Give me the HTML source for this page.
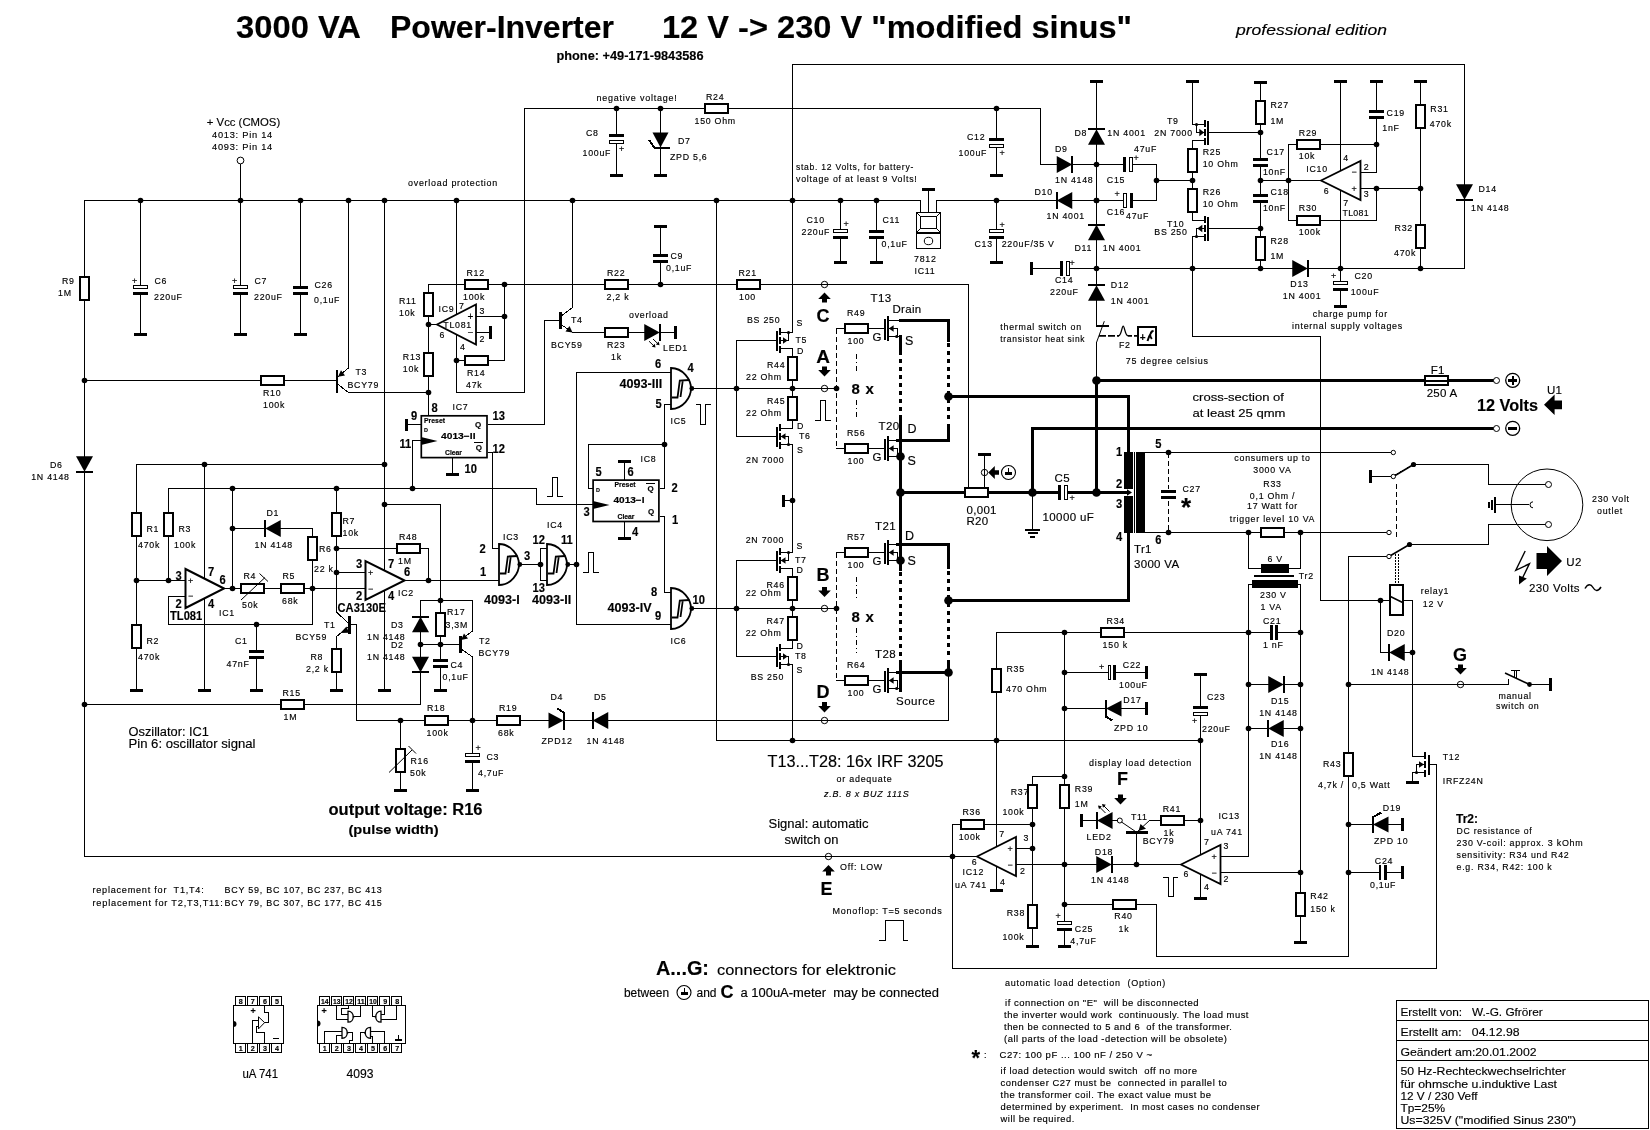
<!DOCTYPE html>
<html><head><meta charset="utf-8"><title>3000 VA Power-Inverter</title>
<style>html,body{margin:0;padding:0;background:#fff}svg{display:block;will-change:transform}text{white-space:pre}</style></head><body>
<svg width="1650" height="1130" viewBox="0 0 1650 1130" font-family="Liberation Sans, sans-serif" font-size="8.8" letter-spacing="0.75" fill="#000">
<rect width="1650" height="1130" fill="#fff"/>
<path d="M240.5 163 L240.5 200.5 M84.5 200.5 L920.5 200.5 L920.5 212 M936.5 212 L936.5 200.5 L1057 200.5 M1072 200.5 L1124 200.5 M84.5 200.5 L84.5 856.5 L977 856.5 M140.5 200.5 L140.5 334 M240.5 200.5 L240.5 334 M300.5 200.5 L300.5 334 M348.5 200.5 L348.5 368 M84.5 380.5 L337 380.5 M348.5 368 L337.5 377 M337.5 384 L348.5 392.5 L428.5 392.5 M384.5 200.5 L384.5 690 M456.5 200.5 L456.5 314.5 M456.5 334.5 L456.5 392.5 L524.5 392.5 L524.5 108.5 L1040.5 108.5 L1040.5 164.5 L1057 164.5 M616.5 108.5 L616.5 175 M660.5 108.5 L660.5 175 M428.5 284.5 L968.5 284.5 L968.5 488 M428.5 284.5 L428.5 415.5 M428.5 324.5 L437 324.5 M476 316.5 L504.5 316.5 M504.5 284.5 L504.5 360.5 L456.5 360.5 M476 332.5 L490 332.5 M660.5 227 L660.5 284.5 M572.5 200.5 L572.5 307.5 L560.5 316.5 M544.5 320.5 L560 320.5 M560.5 324 L572.5 332.5 L644 332.5 M660 332.5 L675 332.5 M406 424.5 L420.5 424.5 M488 424.5 L544.5 424.5 L544.5 320.5 M488 452.5 L492.5 452.5 L492.5 548.5 L499 548.5 M420.5 440.5 L412.5 440.5 L412.5 488.5 M452.5 458 L452.5 474 M168.5 488.5 L536.5 488.5 L536.5 504.5 L592.5 504.5 M168.5 488.5 L168.5 580.5 M136.5 464.5 L384.5 464.5 M136.5 464.5 L136.5 690 M136.5 580.5 L185 580.5 M204.5 464.5 L204.5 690 M547.5 496.5 L552.5 496.5 L552.5 477 L557.5 477 L557.5 496.5 L562 496.5 M224 588.5 L365 588.5 M232.5 488.5 L232.5 588.5 M232.5 528.5 L312.5 528.5 L312.5 624.5 L168.5 624.5 L168.5 596.5 L185 596.5 M256.5 624.5 L256.5 690 M336.5 488.5 L336.5 612 L348.5 623.5 M336.5 548.5 L428.5 548.5 L428.5 580.5 M336.5 572.5 L365 572.5 M404.5 580.5 L499 580.5 M348.5 627 L336.5 636.5 L336.5 690 M349 624.5 L356.5 624.5 L356.5 720.5 L548.5 720.5 M384.5 504.5 L440.5 504.5 L440.5 690 M420.5 600.5 L472.5 600.5 L472.5 631 L460.5 640 M420.5 600.5 L420.5 704.5 M420.5 644.5 L460 644.5 M460.5 648.5 L472.5 657 L472.5 753 M84.5 704.5 L420.5 704.5 M565 720.5 L593 720.5 M608 720.5 L948.5 720.5 L948.5 672.5 M400.5 720.5 L400.5 790 M472.5 762 L472.5 790 M520 564.5 L540.5 564.5 M547 548.5 L540.5 548.5 L540.5 580.5 L547 580.5 M568 564.5 L576.5 564.5 M583 572.5 L588.5 572.5 L588.5 552.5 L593.5 552.5 L593.5 572.5 L598 572.5 M671 372.5 L576.5 372.5 L576.5 624.5 L671 624.5 M692 388.5 L836.5 388.5 M671 404.5 L664.5 404.5 L664.5 488.5 L660 488.5 M664.5 444.5 L588.5 444.5 L588.5 488.5 L592.5 488.5 M696 404.5 L700.5 404.5 L700.5 424 L705.5 424 L705.5 404.5 L710 404.5 M624.5 479.5 L624.5 462 M624.5 522 L624.5 538 M660 516.5 L664.5 516.5 L664.5 592.5 L671 592.5 M692 608.5 L836.5 608.5 M736.5 340.5 L736.5 436.5 M736.5 340.5 L777 340.5 M780 332.5 L792.5 332.5 M780 348.5 L792.5 348.5 M780 340.5 L788.5 340.5 L788.5 332.5 M736.5 436.5 L777 436.5 M780 428.5 L792.5 428.5 M780 444.5 L792.5 444.5 M780 436.5 L788.5 436.5 L788.5 444.5 M736.5 560.5 L736.5 656.5 M736.5 560.5 L777 560.5 M780 552.5 L792.5 552.5 M780 568.5 L792.5 568.5 M780 560.5 L788.5 560.5 L788.5 552.5 M736.5 656.5 L777 656.5 M780 648.5 L792.5 648.5 M780 664.5 L792.5 664.5 M780 656.5 L788.5 656.5 L788.5 664.5 M792.5 64.5 L792.5 332.5 M792.5 64.5 L1464.5 64.5 L1464.5 268.5 M792.5 348.5 L792.5 428.5 M792.5 444.5 L792.5 552.5 M783.5 500.5 L792.5 500.5 M792.5 568.5 L792.5 648.5 M792.5 664.5 L792.5 740.5 M716.5 200.5 L716.5 740.5 L1200.5 740.5 M815 420.5 L820.5 420.5 L820.5 400.5 L825.5 400.5 L825.5 420.5 L830 420.5 M836.5 328.5 L885 328.5 M888 320.5 L899 320.5 M888 328.5 L897 328.5 L897 336.5 M888 336.5 L898 336.5 M836.5 448.5 L885 448.5 M888 440.5 L899 440.5 M888 448.5 L897 448.5 L897 456.5 M888 456.5 L898 456.5 M836.5 552.5 L885 552.5 M888 544.5 L899 544.5 M888 552.5 L897 552.5 L897 560.5 M888 560.5 L898 560.5 M836.5 680.5 L885 680.5 M888 672.5 L899 672.5 M888 680.5 L897 680.5 L897 688.5 M888 688.5 L898 688.5 M1032.5 492.5 L1032.5 530 M984.5 454 L984.5 488 M879.5 940.5 L885.5 940.5 L885.5 920.5 L903.5 920.5 L903.5 940.5 L907.5 940.5 M840.5 200.5 L840.5 262 M876.5 200.5 L876.5 262 M928.5 190 L928.5 212 M996.5 108.5 L996.5 175 M996.5 200.5 L996.5 262 M1072 164.5 L1124 164.5 M1096.5 81.5 L1096.5 326.5 M1132 164.5 L1156.5 164.5 L1156.5 200.5 L1133 200.5 M1156.5 180.5 L1192.5 180.5 M1031 268.5 L1060 268.5 M1068 268.5 L1464.5 268.5 M1192.5 81.5 L1192.5 124.5 L1204 124.5 M1208 132.5 L1260.5 132.5 M1196.5 124.5 L1196.5 132.5 L1204 132.5 M1204 140.5 L1192.5 140.5 L1192.5 220.5 L1204 220.5 M1208 228.5 L1260.5 228.5 M1204 228.5 L1196.5 228.5 L1196.5 236.5 M1204 236.5 L1192.5 236.5 L1192.5 336.5 L1320.5 336.5 L1320.5 600.5 L1390 600.5 M1260.5 82 L1260.5 268.5 M1260.5 180.5 L1321 180.5 M1288.5 144.5 L1288.5 220.5 M1288.5 144.5 L1376.5 144.5 M1288.5 220.5 L1376.5 220.5 L1376.5 188.5 M1340.5 81.5 L1340.5 306 M1376.5 81.5 L1376.5 172.5 L1360.5 172.5 M1360.5 188.5 L1420.5 188.5 M1420.5 81.5 L1420.5 268.5 M1096.5 380 L1096.5 342.5 M1134.5 452.5 L1134.5 532.8 M1145 452.5 L1391 452.5 M1145 532.5 L1386.5 532.5 M1248.5 532.5 L1248.5 568.5 L1261 568.5 M1300.5 532.5 L1300.5 568.5 L1288 568.5 M1248.5 584.5 L1252 584.5 M1297 584.5 L1300.5 584.5 M1248.5 584.5 L1248.5 856.5 L1220.5 856.5 M1300.5 584.5 L1300.5 942 M996.5 632.5 L1300.5 632.5 M1248.5 684.5 L1300.5 684.5 M1248.5 728.5 L1300.5 728.5 M1370.5 476.5 L1391 476.5 M1395.5 475 L1413.5 464.5 M1413.5 464.5 L1488.5 464.5 L1488.5 484.5 L1545.5 484.5 M1409.5 544.5 L1488.5 544.5 L1488.5 524.5 L1545.5 524.5 M1386.5 556.5 L1348.5 556.5 L1348.5 956.5 L1156.5 956.5 L1156.5 904.5 L1064.5 904.5 M1496.5 504.5 L1528.5 504.5 M1402.5 600.5 L1412.5 600.5 L1412.5 756.5 L1424.5 756.5 M1380.5 600.5 L1380.5 652.5 L1412.5 652.5 M1348.5 684.5 L1508.5 684.5 L1508.5 679.5 M1529.5 684.5 L1550 684.5 M1511 670.5 L1519.5 670.5 M1514 670.5 L1514 677 M1516.5 670.5 L1516.5 678 M1348.5 824.5 L1402.5 824.5 M1220.5 872.5 L1300.5 872.5 M1348.5 872.5 L1402.5 872.5 M1429 764.5 L1436.5 764.5 L1436.5 968.5 L952.5 968.5 L952.5 824.5 L1032.5 824.5 M1424.5 764.5 L1416.5 764.5 L1416.5 772.5 M1424.5 772.5 L1412.5 772.5 L1412.5 782 M996.5 632.5 L996.5 890 M1064.5 632.5 L1064.5 946 M1064.5 672.5 L1146 672.5 M1064.5 708.5 L1146 708.5 M1200.5 675 L1200.5 898 M1064.5 776.5 L1032.5 776.5 L1032.5 946 M1016 848.5 L1032.5 848.5 M1016 864.5 L1181 864.5 M1082 820.5 L1097 820.5 M1112 820.5 L1117 820.5 M1149.5 820.5 L1200.5 820.5 M1136.5 832 L1136.5 864.5 M1200.5 740.5 L1200.5 845 M1220.5 856.5 L1248.5 856.5 M1163.5 877 L1168 877 L1168 896 L1173 896 L1173 877 L1177.5 877 M1396.5 1020.5 L1648.5 1020.5 M1396.5 1040.5 L1648.5 1040.5 M1396.5 1060.5 L1648.5 1060.5 M264.5 1005.5 L264.5 1012.5 L268.5 1012.5 L268.5 1022.5 L264.5 1022.5 M252.5 1043.5 L252.5 1020.5 L258.5 1020.5 M264.5 1043.5 L264.5 1032.5 L256.5 1032.5 L256.5 1026.5 L258.5 1026.5 M336.5 1005.5 L336.5 1019.5 L348 1019.5 M348.5 1005.5 L348.5 1008.5 L341.5 1008.5 L341.5 1014.5 L348 1014.5 M353.5 1016.5 L360.5 1016.5 L360.5 1005.5 M396.5 1005.5 L396.5 1019.5 L381 1019.5 M384.5 1005.5 L384.5 1014.5 L381 1014.5 M375.5 1016.5 L372.5 1016.5 L372.5 1005.5 M324.5 1043.5 L324.5 1031.5 L342 1031.5 M336.5 1043.5 L336.5 1035.5 L342 1035.5 M347.5 1032.5 L352.5 1032.5 L352.5 1040.5 L349.5 1040.5 L349.5 1043.5 M384.5 1043.5 L384.5 1031.5 L370.5 1031.5 M372.5 1043.5 L372.5 1036 L370.5 1036 M365 1032.5 L360.5 1032.5 L360.5 1043.5" fill="none" stroke="#000" stroke-width="1" stroke-linecap="square" stroke-linejoin="miter" shape-rendering="crispEdges"/>
<path d="M899 320.5 L948.5 320.5 L948.5 342 M948.5 423.5 L948.5 440.5 L896 440.5 M900.5 335 L900.5 351 M900.5 419 L900.5 571 M900.5 660 L900.5 692 M948.5 396.5 L1128.5 396.5 L1128.5 453 M896 544.5 L948.5 544.5 L948.5 569 M948.5 660 L948.5 672.5 M896 672.5 L948.5 672.5 M948.5 600.5 L1128.5 600.5 L1128.5 532 M900.5 492.5 L1059 492.5 M1067 492.5 L1128 492.5 M1032.5 492.5 L1032.5 428.5 L1493.5 428.5 M1096.5 492.5 L1096.5 380.5 L1493.5 380.5" fill="none" stroke="#000" stroke-width="3" shape-rendering="crispEdges" stroke-linejoin="miter"/>
<path d="M654.5 148 L649 140 M564 713 L557.5 708.5 M1373 817 L1381.5 812.5 M1105.5 716.5 L1112.5 720.5" fill="none" stroke="#000" stroke-width="2" shape-rendering="crispEdges"/>
<g>
<circle cx="240.5" cy="160.5" r="3.4" fill="#fff" stroke="#000" stroke-width="1"/>
<circle cx="140.5" cy="200.5" r="2.8"/>
<circle cx="240.5" cy="200.5" r="2.8"/>
<circle cx="300.5" cy="200.5" r="2.8"/>
<circle cx="348.5" cy="200.5" r="2.8"/>
<circle cx="384.5" cy="200.5" r="2.8"/>
<circle cx="456.5" cy="200.5" r="2.8"/>
<circle cx="572.5" cy="200.5" r="2.8"/>
<circle cx="716.5" cy="200.5" r="2.8"/>
<circle cx="792.5" cy="200.5" r="2.8"/>
<circle cx="840.5" cy="200.5" r="2.8"/>
<circle cx="876.5" cy="200.5" r="2.8"/>
<circle cx="996.5" cy="200.5" r="2.8"/>
<circle cx="1096.5" cy="200.5" r="2.8"/>
<rect x="80" y="277" width="9" height="23" fill="#fff" stroke="#000" stroke-width="2" shape-rendering="crispEdges"/>
<circle cx="84.5" cy="380.5" r="2.8"/>
<circle cx="84.5" cy="704.5" r="2.8"/>
<polygon points="76,456.25 84.5,471.75 93,456.25" fill="#000"/>
<rect x="76" y="470.75" width="17" height="2" shape-rendering="crispEdges"/>
<rect x="139.5" y="288.5" width="2" height="4" fill="#fff"/>
<rect x="133.5" y="285.5" width="14" height="3" fill="#fff" stroke="#000" stroke-width="1" shape-rendering="crispEdges"/>
<rect x="133" y="292" width="15" height="3" shape-rendering="crispEdges"/>
<rect x="134" y="333" width="13" height="3" shape-rendering="crispEdges"/>
<rect x="239.5" y="288.5" width="2" height="4" fill="#fff"/>
<rect x="233.5" y="285.5" width="14" height="3" fill="#fff" stroke="#000" stroke-width="1" shape-rendering="crispEdges"/>
<rect x="233" y="292" width="15" height="3" shape-rendering="crispEdges"/>
<rect x="234" y="333" width="13" height="3" shape-rendering="crispEdges"/>
<rect x="299.5" y="288.5" width="2" height="4" fill="#fff"/>
<rect x="293" y="286" width="15" height="3" shape-rendering="crispEdges"/>
<rect x="293" y="292" width="15" height="3" shape-rendering="crispEdges"/>
<rect x="294" y="333" width="13" height="3" shape-rendering="crispEdges"/>
<rect x="261" y="376" width="23" height="9" fill="#fff" stroke="#000" stroke-width="2" shape-rendering="crispEdges"/>
<rect x="335.5" y="369.5" width="2.5" height="23" shape-rendering="crispEdges"/>
<polygon points="338,376.8 345,375.5 341,370.3" fill="#000"/>
<circle cx="384.5" cy="464.5" r="2.8"/>
<circle cx="384.5" cy="504.5" r="2.8"/>
<rect x="378" y="689" width="13" height="3" shape-rendering="crispEdges"/>
<circle cx="456.5" cy="360.5" r="2.8"/>
<circle cx="616.5" cy="108.5" r="2.8"/>
<circle cx="660.5" cy="108.5" r="2.8"/>
<circle cx="996.5" cy="108.5" r="2.8"/>
<rect x="705" y="104" width="23" height="9" fill="#fff" stroke="#000" stroke-width="2" shape-rendering="crispEdges"/>
<rect x="615.5" y="136.5" width="2" height="4" fill="#fff"/>
<rect x="609" y="134" width="15" height="3" shape-rendering="crispEdges"/>
<rect x="609.5" y="140.5" width="14" height="3" fill="#fff" stroke="#000" stroke-width="1" shape-rendering="crispEdges"/>
<rect x="610" y="174" width="13" height="3" shape-rendering="crispEdges"/>
<polygon points="652.5,132.5 668.5,132.5 660.5,147.5" fill="#000"/>
<rect x="653.5" y="147" width="16.5" height="2" shape-rendering="crispEdges"/>
<rect x="654" y="174" width="13" height="3" shape-rendering="crispEdges"/>
<rect x="465" y="280" width="23" height="9" fill="#fff" stroke="#000" stroke-width="2" shape-rendering="crispEdges"/>
<rect x="605" y="280" width="23" height="9" fill="#fff" stroke="#000" stroke-width="2" shape-rendering="crispEdges"/>
<rect x="737" y="280" width="23" height="9" fill="#fff" stroke="#000" stroke-width="2" shape-rendering="crispEdges"/>
<circle cx="504.5" cy="284.5" r="2.8"/>
<circle cx="660.5" cy="284.5" r="2.8"/>
<circle cx="824.5" cy="284.5" r="3.2" fill="none" stroke="#000" stroke-width="1"/>
<rect x="424" y="293" width="9" height="23" fill="#fff" stroke="#000" stroke-width="2" shape-rendering="crispEdges"/>
<rect x="424" y="353" width="9" height="23" fill="#fff" stroke="#000" stroke-width="2" shape-rendering="crispEdges"/>
<circle cx="428.5" cy="324.5" r="2.8"/>
<circle cx="428.5" cy="392.5" r="2.8"/>
<polygon points="437,324.5 476,304.5 476,344.5" fill="#fff" stroke="#000" stroke-width="1.8"/>
<circle cx="504.5" cy="316.5" r="2.8"/>
<rect x="465" y="356" width="23" height="9" fill="#fff" stroke="#000" stroke-width="2" shape-rendering="crispEdges"/>
<rect x="489" y="326" width="3" height="13" shape-rendering="crispEdges"/>
<rect x="654" y="225" width="13" height="3" shape-rendering="crispEdges"/>
<rect x="659.5" y="256.5" width="2" height="4" fill="#fff"/>
<rect x="653" y="254" width="15" height="3" shape-rendering="crispEdges"/>
<rect x="653" y="260" width="15" height="3" shape-rendering="crispEdges"/>
<rect x="559" y="312" width="2.5" height="17" shape-rendering="crispEdges"/>
<polygon points="572.5,332.5 565.5,331.5 569.5,326" fill="#000"/>
<rect x="605" y="328" width="23" height="9" fill="#fff" stroke="#000" stroke-width="2" shape-rendering="crispEdges"/>
<polygon points="644.25,324 659.75,332.5 644.25,341" fill="#000"/>
<rect x="658.75" y="324" width="2" height="17" shape-rendering="crispEdges"/>
<rect x="674" y="325.5" width="3" height="13" shape-rendering="crispEdges"/>
<path d="M649 341.2 L654.5 346.5" fill="none" stroke="#000" stroke-width="1"/>
<path d="M653 339 L658.5 344.3" fill="none" stroke="#000" stroke-width="1"/>
<polygon points="655.5,347.5 651.8,346.8 654.8,343.8" fill="#000"/>
<polygon points="659.5,345.3 655.8,344.6 658.8,341.6" fill="#000"/>
<rect x="421.3" y="415.8" width="65.7" height="41.8" fill="#fff" stroke="#000" stroke-width="1.7"/>
<polygon points="421,437 437.5,441 421,445" fill="#000"/>
<rect x="405" y="418.5" width="3" height="12" shape-rendering="crispEdges"/>
<rect x="446" y="473" width="13" height="3" shape-rendering="crispEdges"/>
<rect x="474" y="442" width="9" height="1" shape-rendering="crispEdges"/>
<circle cx="232.5" cy="488.5" r="2.8"/>
<circle cx="336.5" cy="488.5" r="2.8"/>
<circle cx="412.5" cy="488.5" r="2.8"/>
<rect x="164" y="513" width="9" height="23" fill="#fff" stroke="#000" stroke-width="2" shape-rendering="crispEdges"/>
<circle cx="204.5" cy="464.5" r="2.8"/>
<rect x="132" y="513" width="9" height="23" fill="#fff" stroke="#000" stroke-width="2" shape-rendering="crispEdges"/>
<rect x="132" y="625" width="9" height="23" fill="#fff" stroke="#000" stroke-width="2" shape-rendering="crispEdges"/>
<circle cx="136.5" cy="580.5" r="2.8"/>
<circle cx="168.5" cy="580.5" r="2.8"/>
<rect x="130" y="689" width="13" height="3" shape-rendering="crispEdges"/>
<rect x="198" y="689" width="13" height="3" shape-rendering="crispEdges"/>
<polygon points="224,588.5 185.5,569 185.5,608" fill="#fff" stroke="#000" stroke-width="2"/>
<rect x="241" y="584" width="23" height="9" fill="#fff" stroke="#000" stroke-width="2" shape-rendering="crispEdges"/>
<rect x="281" y="584" width="23" height="9" fill="#fff" stroke="#000" stroke-width="2" shape-rendering="crispEdges"/>
<path d="M241 600 L265 577.5" fill="none" stroke="#000" stroke-width="1"/>
<path d="M259.5 573.5 L268 581.5" fill="none" stroke="#000" stroke-width="1"/>
<circle cx="232.5" cy="588.5" r="2.8"/>
<circle cx="312.5" cy="588.5" r="2.8"/>
<circle cx="232.5" cy="528.5" r="2.8"/>
<polygon points="280.75,520 265.25,528.5 280.75,537" fill="#000"/>
<rect x="264.25" y="520" width="2" height="17" shape-rendering="crispEdges"/>
<rect x="308" y="537" width="9" height="23" fill="#fff" stroke="#000" stroke-width="2" shape-rendering="crispEdges"/>
<circle cx="256.5" cy="624.5" r="2.8"/>
<rect x="255.5" y="652.5" width="2" height="4" fill="#fff"/>
<rect x="249" y="650" width="15" height="3" shape-rendering="crispEdges"/>
<rect x="249" y="656" width="15" height="3" shape-rendering="crispEdges"/>
<rect x="250" y="689" width="13" height="3" shape-rendering="crispEdges"/>
<rect x="332" y="513" width="9" height="23" fill="#fff" stroke="#000" stroke-width="2" shape-rendering="crispEdges"/>
<circle cx="336.5" cy="548.5" r="2.8"/>
<circle cx="336.5" cy="572.5" r="2.8"/>
<rect x="397" y="544" width="23" height="9" fill="#fff" stroke="#000" stroke-width="2" shape-rendering="crispEdges"/>
<polygon points="404.5,580.5 365.5,561 365.5,600" fill="#fff" stroke="#000" stroke-width="2"/>
<circle cx="428.5" cy="580.5" r="2.8"/>
<rect x="348" y="616" width="2.5" height="17.5" shape-rendering="crispEdges"/>
<polygon points="340.4,633 346.5,626.5 349,632.7" fill="#000"/>
<rect x="332" y="649" width="9" height="23" fill="#fff" stroke="#000" stroke-width="2" shape-rendering="crispEdges"/>
<rect x="330" y="689" width="13" height="3" shape-rendering="crispEdges"/>
<rect x="436" y="613" width="9" height="23" fill="#fff" stroke="#000" stroke-width="2" shape-rendering="crispEdges"/>
<rect x="439.5" y="661" width="2" height="4" fill="#fff"/>
<rect x="433" y="658.5" width="15" height="3" shape-rendering="crispEdges"/>
<rect x="433" y="664.5" width="15" height="3" shape-rendering="crispEdges"/>
<rect x="434" y="689" width="13" height="3" shape-rendering="crispEdges"/>
<circle cx="440.5" cy="600.5" r="2.8"/>
<circle cx="440.5" cy="644.5" r="2.8"/>
<polygon points="412,632.25 420.5,616.75 429,632.25" fill="#000"/>
<rect x="412" y="615.75" width="17" height="2" shape-rendering="crispEdges"/>
<polygon points="412,656.75 420.5,672.25 429,656.75" fill="#000"/>
<rect x="412" y="671.25" width="17" height="2" shape-rendering="crispEdges"/>
<circle cx="420.5" cy="644.5" r="2.8"/>
<rect x="459" y="636" width="2.5" height="17" shape-rendering="crispEdges"/>
<polygon points="461,640 468,638.5 464,633.5" fill="#000"/>
<rect x="281" y="700" width="23" height="9" fill="#fff" stroke="#000" stroke-width="2" shape-rendering="crispEdges"/>
<rect x="425" y="716" width="23" height="9" fill="#fff" stroke="#000" stroke-width="2" shape-rendering="crispEdges"/>
<rect x="497" y="716" width="23" height="9" fill="#fff" stroke="#000" stroke-width="2" shape-rendering="crispEdges"/>
<circle cx="400.5" cy="720.5" r="2.8"/>
<circle cx="472.5" cy="720.5" r="2.8"/>
<polygon points="548.5,712.5 548.5,728.5 563.5,720.5" fill="#000"/>
<rect x="563" y="712" width="2" height="17.5" shape-rendering="crispEdges"/>
<polygon points="608.25,712 592.75,720.5 608.25,729" fill="#000"/>
<rect x="591.75" y="712" width="2" height="17" shape-rendering="crispEdges"/>
<circle cx="824.5" cy="720.5" r="3.2" fill="none" stroke="#000" stroke-width="1"/>
<rect x="396" y="749" width="9" height="23" fill="#fff" stroke="#000" stroke-width="2" shape-rendering="crispEdges"/>
<rect x="394" y="789" width="13" height="3" shape-rendering="crispEdges"/>
<path d="M389 772.5 L412 750" fill="none" stroke="#000" stroke-width="1"/>
<path d="M408.5 746 L416 753.5" fill="none" stroke="#000" stroke-width="1"/>
<rect x="471.5" y="756.3" width="2" height="4" fill="#fff"/>
<rect x="465.5" y="753.3" width="14" height="3" fill="#fff" stroke="#000" stroke-width="1" shape-rendering="crispEdges"/>
<rect x="465" y="759.8" width="15" height="3" shape-rendering="crispEdges"/>
<rect x="466" y="789" width="13" height="3" shape-rendering="crispEdges"/>
<path d="M499 585 L499 544 C511 544 519 555.5 519 564.5 C519 573.5 511 585 499 585 Z" fill="#fff" stroke="#000" stroke-width="1.8"/>
<path d="M500 573.5 L505.5 573.5 L507.8 556.5 L517.5 556 M508.5 573 L510.8 556.5" fill="none" stroke="#000" stroke-width="1.8"/>
<circle cx="519.8" cy="564.5" r="2.4"/>
<circle cx="540.5" cy="564.5" r="2.8"/>
<path d="M547 585 L547 544 C559 544 567 555.5 567 564.5 C567 573.5 559 585 547 585 Z" fill="#fff" stroke="#000" stroke-width="1.8"/>
<path d="M548 573.5 L553.5 573.5 L555.8 556.5 L565.5 556 M556.5 573 L558.8 556.5" fill="none" stroke="#000" stroke-width="1.8"/>
<circle cx="567.8" cy="564.5" r="2.4"/>
<circle cx="576.5" cy="564.5" r="2.8"/>
<path d="M671 409 L671 368 C683 368 691 379.5 691 388.5 C691 397.5 683 409 671 409 Z" fill="#fff" stroke="#000" stroke-width="1.8"/>
<path d="M672 397.5 L677.5 397.5 L679.8 380.5 L689.5 380 M680.5 397 L682.8 380.5" fill="none" stroke="#000" stroke-width="1.8"/>
<circle cx="691.8" cy="388.5" r="2.4"/>
<circle cx="736.5" cy="388.5" r="2.8"/>
<circle cx="792.5" cy="388.5" r="2.8"/>
<circle cx="836.5" cy="388.5" r="2.8"/>
<circle cx="824.5" cy="388.5" r="3.2" fill="none" stroke="#000" stroke-width="1"/>
<circle cx="664.5" cy="444.5" r="2.8"/>
<rect x="593.1" y="480.1" width="65.8" height="41.4" fill="#fff" stroke="#000" stroke-width="1.7"/>
<polygon points="593,501 609.5,505 593,509" fill="#000"/>
<rect x="618" y="460" width="13" height="3" shape-rendering="crispEdges"/>
<rect x="618" y="537" width="13" height="3" shape-rendering="crispEdges"/>
<rect x="646" y="483" width="9" height="1" shape-rendering="crispEdges"/>
<path d="M671 629 L671 588 C683 588 691 599.5 691 608.5 C691 617.5 683 629 671 629 Z" fill="#fff" stroke="#000" stroke-width="1.8"/>
<path d="M672 617.5 L677.5 617.5 L679.8 600.5 L689.5 600 M680.5 617 L682.8 600.5" fill="none" stroke="#000" stroke-width="1.8"/>
<circle cx="691.8" cy="608.5" r="2.4"/>
<circle cx="736.5" cy="608.5" r="2.8"/>
<circle cx="792.5" cy="608.5" r="2.8"/>
<circle cx="836.5" cy="608.5" r="2.8"/>
<circle cx="824.5" cy="608.5" r="3.2" fill="none" stroke="#000" stroke-width="1"/>
<rect x="776.3" y="330.5" width="1.6" height="20" shape-rendering="crispEdges"/>
<rect x="779" y="328.2" width="2" height="6.4" shape-rendering="crispEdges"/>
<rect x="779" y="337.2" width="2" height="6.4" shape-rendering="crispEdges"/>
<rect x="779" y="346.3" width="2" height="6.4" shape-rendering="crispEdges"/>
<circle cx="788.5" cy="332.5" r="1.6"/>
<polygon points="783,337.2 787.6,340.5 783,343.8" fill="#000"/>
<rect x="776.3" y="426.5" width="1.6" height="20" shape-rendering="crispEdges"/>
<rect x="779" y="424.2" width="2" height="6.4" shape-rendering="crispEdges"/>
<rect x="779" y="433.2" width="2" height="6.4" shape-rendering="crispEdges"/>
<rect x="779" y="442.3" width="2" height="6.4" shape-rendering="crispEdges"/>
<circle cx="788.5" cy="444.5" r="1.6"/>
<polygon points="785.5,433.2 780.8,436.5 785.5,439.8" fill="#000"/>
<rect x="776.3" y="550.5" width="1.6" height="20" shape-rendering="crispEdges"/>
<rect x="779" y="548.2" width="2" height="6.4" shape-rendering="crispEdges"/>
<rect x="779" y="557.2" width="2" height="6.4" shape-rendering="crispEdges"/>
<rect x="779" y="566.3" width="2" height="6.4" shape-rendering="crispEdges"/>
<circle cx="788.5" cy="552.5" r="1.6"/>
<polygon points="785.5,557.2 780.8,560.5 785.5,563.8" fill="#000"/>
<rect x="776.3" y="646.5" width="1.6" height="20" shape-rendering="crispEdges"/>
<rect x="779" y="644.2" width="2" height="6.4" shape-rendering="crispEdges"/>
<rect x="779" y="653.2" width="2" height="6.4" shape-rendering="crispEdges"/>
<rect x="779" y="662.3" width="2" height="6.4" shape-rendering="crispEdges"/>
<circle cx="788.5" cy="664.5" r="1.6"/>
<polygon points="783,653.2 787.6,656.5 783,659.8" fill="#000"/>
<rect x="788" y="357" width="9" height="23" fill="#fff" stroke="#000" stroke-width="2" shape-rendering="crispEdges"/>
<rect x="788" y="397" width="9" height="23" fill="#fff" stroke="#000" stroke-width="2" shape-rendering="crispEdges"/>
<circle cx="792.5" cy="500.5" r="2.8"/>
<rect x="782" y="494.5" width="3" height="12" shape-rendering="crispEdges"/>
<rect x="788" y="577" width="9" height="23" fill="#fff" stroke="#000" stroke-width="2" shape-rendering="crispEdges"/>
<rect x="788" y="617" width="9" height="23" fill="#fff" stroke="#000" stroke-width="2" shape-rendering="crispEdges"/>
<circle cx="792.5" cy="740.5" r="2.8"/>
<circle cx="996.5" cy="740.5" r="2.8"/>
<circle cx="1200.5" cy="740.5" r="2.8"/>
<polygon points="824.5,292.5 830.8,298.9 827,298.9 827,302.5 822,302.5 822,298.9 818.2,298.9" fill="#000"/>
<polygon points="822,366.5 827,366.5 827,370.1 830.8,370.1 824.5,376.5 818.2,370.1 822,370.1" fill="#000"/>
<polygon points="822,587 827,587 827,590.6 830.8,590.6 824.5,597 818.2,590.6 822,590.6" fill="#000"/>
<polygon points="822,702 827,702 827,706.1 830.8,706.1 824.5,712.5 818.2,706.1 822,706.1" fill="#000"/>
<path d="M836.5 328.5 V448.5 M836.5 552.5 V680.5" fill="none" stroke="#000" stroke-width="1" stroke-dasharray="5 3" shape-rendering="crispEdges"/>
<path d="M856.5 353.5 V373 M856.5 400 V417.5 M856.5 576.5 V601 M856.5 627.5 V652.5" fill="none" stroke="#000" stroke-width="1" stroke-dasharray="5 3 1 3" shape-rendering="crispEdges"/>
<rect x="845" y="324" width="23" height="9" fill="#fff" stroke="#000" stroke-width="2" shape-rendering="crispEdges"/>
<rect x="884.3" y="318.5" width="1.6" height="21" shape-rendering="crispEdges"/>
<rect x="887" y="316.2" width="2" height="24.6" shape-rendering="crispEdges"/>
<polygon points="893.6,325.2 888.8,328.5 893.6,331.8" fill="#000"/>
<rect x="845" y="444" width="23" height="9" fill="#fff" stroke="#000" stroke-width="2" shape-rendering="crispEdges"/>
<rect x="884.3" y="438.5" width="1.6" height="21" shape-rendering="crispEdges"/>
<rect x="887" y="436.2" width="2" height="24.6" shape-rendering="crispEdges"/>
<polygon points="893.6,445.2 888.8,448.5 893.6,451.8" fill="#000"/>
<rect x="845" y="548" width="23" height="9" fill="#fff" stroke="#000" stroke-width="2" shape-rendering="crispEdges"/>
<rect x="884.3" y="542.5" width="1.6" height="21" shape-rendering="crispEdges"/>
<rect x="887" y="540.2" width="2" height="24.6" shape-rendering="crispEdges"/>
<polygon points="893.6,549.2 888.8,552.5 893.6,555.8" fill="#000"/>
<rect x="845" y="676" width="23" height="9" fill="#fff" stroke="#000" stroke-width="2" shape-rendering="crispEdges"/>
<rect x="884.3" y="670.5" width="1.6" height="21" shape-rendering="crispEdges"/>
<rect x="887" y="668.2" width="2" height="24.6" shape-rendering="crispEdges"/>
<polygon points="893.6,677.2 888.8,680.5 893.6,683.8" fill="#000"/>
<circle cx="896.7" cy="336.5" r="1.6"/>
<circle cx="896.7" cy="688.5" r="1.6"/>
<path d="M948.5 343 V423" fill="none" stroke="#000" stroke-width="3" stroke-dasharray="3.5 4.5" shape-rendering="crispEdges"/>
<path d="M900.5 351 V419" fill="none" stroke="#000" stroke-width="3" stroke-dasharray="3.5 4.5" shape-rendering="crispEdges"/>
<path d="M900.5 572 V660" fill="none" stroke="#000" stroke-width="3" stroke-dasharray="3.5 4.5" shape-rendering="crispEdges"/>
<circle cx="948.5" cy="396.5" r="4.3"/>
<circle cx="900.5" cy="456.5" r="4.3"/>
<circle cx="900.5" cy="492.5" r="4.3"/>
<circle cx="900.5" cy="560.5" r="4.3"/>
<path d="M948.5 571 V658" fill="none" stroke="#000" stroke-width="3" stroke-dasharray="3.5 4.5" shape-rendering="crispEdges"/>
<circle cx="948.5" cy="600.5" r="4.3"/>
<circle cx="948.5" cy="672.5" r="4.3"/>
<rect x="965" y="488" width="23" height="9" fill="#fff" stroke="#000" stroke-width="2" shape-rendering="crispEdges"/>
<circle cx="1032.5" cy="492.5" r="4.3"/>
<circle cx="1096.5" cy="492.5" r="4.3"/>
<rect x="1058" y="485" width="3" height="15" shape-rendering="crispEdges"/>
<rect x="1064" y="485.5" width="3" height="14" fill="#fff" stroke="#000" stroke-width="1" shape-rendering="crispEdges"/>
<polygon points="1127,489.3 1132,492.5 1127,495.7" fill="#000"/>
<rect x="1025" y="528.5" width="15" height="2" shape-rendering="crispEdges"/>
<rect x="1027.5" y="532" width="10" height="2" shape-rendering="crispEdges"/>
<rect x="1030" y="535.5" width="5" height="2" shape-rendering="crispEdges"/>
<circle cx="1096.5" cy="380.5" r="4.3"/>
<rect x="978" y="452.5" width="13" height="3" shape-rendering="crispEdges"/>
<circle cx="984.5" cy="472.5" r="3.2" fill="none" stroke="#000" stroke-width="1"/>
<polygon points="988.2,472.5 994.8,466.1 994.8,470.2 999,470.2 999,474.8 994.8,474.8 994.8,478.9" fill="#000"/>
<circle cx="1008.5" cy="472.5" r="7" fill="#fff" stroke="#000" stroke-width="1.1"/>
<rect x="1005" y="472" width="7" height="3" shape-rendering="crispEdges"/>
<rect x="1008" y="468" width="1" height="4" shape-rendering="crispEdges"/>
<circle cx="828.5" cy="856.5" r="3.2" fill="none" stroke="#000" stroke-width="1"/>
<polygon points="828.5,865 834.8,871.4 831,871.4 831,875.5 826,875.5 826,871.4 822.2,871.4" fill="#000"/>
<circle cx="684" cy="992.5" r="7" fill="#fff" stroke="#000" stroke-width="1.1"/>
<rect x="680.5" y="992.2" width="7" height="3" shape-rendering="crispEdges"/>
<rect x="683.5" y="988.2" width="1" height="4" shape-rendering="crispEdges"/>
<rect x="834" y="261" width="13" height="3" shape-rendering="crispEdges"/>
<rect x="870" y="261" width="13" height="3" shape-rendering="crispEdges"/>
<rect x="839.5" y="232.5" width="2" height="4" fill="#fff"/>
<rect x="833.5" y="229.5" width="14" height="3" fill="#fff" stroke="#000" stroke-width="1" shape-rendering="crispEdges"/>
<rect x="833" y="236" width="15" height="3" shape-rendering="crispEdges"/>
<rect x="875.5" y="232.5" width="2" height="4" fill="#fff"/>
<rect x="869" y="230" width="15" height="3" shape-rendering="crispEdges"/>
<rect x="869" y="236" width="15" height="3" shape-rendering="crispEdges"/>
<rect x="922" y="188" width="13" height="3" shape-rendering="crispEdges"/>
<rect x="916.5" y="212.5" width="24" height="36" fill="#fff" stroke="#000" stroke-width="1" shape-rendering="crispEdges"/>
<rect x="916" y="232" width="25" height="2" shape-rendering="crispEdges"/>
<rect x="920.5" y="216.5" width="16" height="12" fill="#fff" stroke="#000" stroke-width="1" shape-rendering="crispEdges"/>
<path d="M916.5 212.5 L920.5 216.5" fill="none" stroke="#000" stroke-width="1"/>
<path d="M940.5 212.5 L936.5 216.5" fill="none" stroke="#000" stroke-width="1"/>
<path d="M916.5 232.5 L920.5 228.5" fill="none" stroke="#000" stroke-width="1"/>
<path d="M940.5 232.5 L936.5 228.5" fill="none" stroke="#000" stroke-width="1"/>
<ellipse cx="928.5" cy="241" rx="4.2" ry="3.7" fill="#fff" stroke="#000" stroke-width="1"/>
<rect x="995.5" y="140.5" width="2" height="4" fill="#fff"/>
<rect x="989" y="138" width="15" height="3" shape-rendering="crispEdges"/>
<rect x="989.5" y="144.5" width="14" height="3" fill="#fff" stroke="#000" stroke-width="1" shape-rendering="crispEdges"/>
<rect x="990" y="174" width="13" height="3" shape-rendering="crispEdges"/>
<rect x="995.5" y="232" width="2" height="4" fill="#fff"/>
<rect x="989.5" y="229" width="14" height="3" fill="#fff" stroke="#000" stroke-width="1" shape-rendering="crispEdges"/>
<rect x="989" y="235.5" width="15" height="3" shape-rendering="crispEdges"/>
<rect x="990" y="261" width="13" height="3" shape-rendering="crispEdges"/>
<polygon points="1056.75,156 1072.25,164.5 1056.75,173" fill="#000"/>
<rect x="1071.25" y="156" width="2" height="17" shape-rendering="crispEdges"/>
<circle cx="1096.5" cy="164.5" r="2.8"/>
<rect x="1090" y="80" width="13" height="3" shape-rendering="crispEdges"/>
<polygon points="1088,144.75 1096.5,129.25 1105,144.75" fill="#000"/>
<rect x="1088" y="128.25" width="17" height="2" shape-rendering="crispEdges"/>
<polygon points="1088,240.25 1096.5,224.75 1105,240.25" fill="#000"/>
<rect x="1088" y="223.75" width="17" height="2" shape-rendering="crispEdges"/>
<polygon points="1088,300.75 1096.5,285.25 1105,300.75" fill="#000"/>
<rect x="1088" y="284.25" width="17" height="2" shape-rendering="crispEdges"/>
<polygon points="1072.25,192 1056.75,200.5 1072.25,209" fill="#000"/>
<rect x="1055.75" y="192" width="2" height="17" shape-rendering="crispEdges"/>
<rect x="1125.5" y="163.5" width="4" height="2" fill="#fff"/>
<rect x="1123" y="157" width="3" height="15" shape-rendering="crispEdges"/>
<rect x="1129.5" y="157.5" width="3" height="14" fill="#fff" stroke="#000" stroke-width="1" shape-rendering="crispEdges"/>
<rect x="1126.5" y="199.5" width="4" height="2" fill="#fff"/>
<rect x="1123.5" y="193.5" width="3" height="14" fill="#fff" stroke="#000" stroke-width="1" shape-rendering="crispEdges"/>
<rect x="1130" y="193" width="3" height="15" shape-rendering="crispEdges"/>
<circle cx="1156.5" cy="180.5" r="2.8"/>
<rect x="1029.5" y="262" width="3" height="13" shape-rendering="crispEdges"/>
<rect x="1062" y="267.5" width="4" height="2" fill="#fff"/>
<rect x="1059.5" y="261" width="3" height="15" shape-rendering="crispEdges"/>
<rect x="1066" y="261.5" width="3" height="14" fill="#fff" stroke="#000" stroke-width="1" shape-rendering="crispEdges"/>
<circle cx="1096.5" cy="268.5" r="2.8"/>
<circle cx="1192.5" cy="268.5" r="2.8"/>
<circle cx="1260.5" cy="268.5" r="2.8"/>
<circle cx="1340.5" cy="268.5" r="2.8"/>
<circle cx="1420.5" cy="268.5" r="2.8"/>
<circle cx="1096.5" cy="200.5" r="2.8"/>
<rect x="1186" y="80" width="13" height="3" shape-rendering="crispEdges"/>
<rect x="1207" y="120.5" width="1.6" height="24" shape-rendering="crispEdges"/>
<rect x="1203.5" y="120.2" width="2" height="6.4" shape-rendering="crispEdges"/>
<rect x="1203.5" y="129.2" width="2" height="6.4" shape-rendering="crispEdges"/>
<rect x="1203.5" y="138.3" width="2" height="6.4" shape-rendering="crispEdges"/>
<circle cx="1196.5" cy="124.5" r="1.6"/>
<polygon points="1199.3,128.8 1204.2,132.5 1199.3,136.2" fill="#000"/>
<rect x="1188" y="149" width="9" height="23" fill="#fff" stroke="#000" stroke-width="2" shape-rendering="crispEdges"/>
<rect x="1188" y="189" width="9" height="23" fill="#fff" stroke="#000" stroke-width="2" shape-rendering="crispEdges"/>
<circle cx="1192.5" cy="180.5" r="2.8"/>
<rect x="1207" y="216.5" width="1.6" height="24" shape-rendering="crispEdges"/>
<rect x="1203.5" y="216.2" width="2" height="6.4" shape-rendering="crispEdges"/>
<rect x="1203.5" y="225.2" width="2" height="6.4" shape-rendering="crispEdges"/>
<rect x="1203.5" y="234.3" width="2" height="6.4" shape-rendering="crispEdges"/>
<polygon points="1202.3,224.8 1197.3,228.5 1202.3,232.2" fill="#000"/>
<circle cx="1196.5" cy="236.5" r="1.6"/>
<rect x="1254" y="80.5" width="13" height="3" shape-rendering="crispEdges"/>
<rect x="1256" y="101" width="9" height="23" fill="#fff" stroke="#000" stroke-width="2" shape-rendering="crispEdges"/>
<rect x="1256" y="237" width="9" height="23" fill="#fff" stroke="#000" stroke-width="2" shape-rendering="crispEdges"/>
<rect x="1259.5" y="160.5" width="2" height="4" fill="#fff"/>
<rect x="1253" y="158" width="15" height="3" shape-rendering="crispEdges"/>
<rect x="1253" y="164" width="15" height="3" shape-rendering="crispEdges"/>
<rect x="1259.5" y="196.5" width="2" height="4" fill="#fff"/>
<rect x="1253" y="194" width="15" height="3" shape-rendering="crispEdges"/>
<rect x="1253" y="200" width="15" height="3" shape-rendering="crispEdges"/>
<circle cx="1260.5" cy="132.5" r="2.8"/>
<circle cx="1260.5" cy="180.5" r="2.8"/>
<circle cx="1260.5" cy="228.5" r="2.8"/>
<circle cx="1288.5" cy="180.5" r="2.8"/>
<rect x="1297" y="140" width="23" height="9" fill="#fff" stroke="#000" stroke-width="2" shape-rendering="crispEdges"/>
<rect x="1297" y="216" width="23" height="9" fill="#fff" stroke="#000" stroke-width="2" shape-rendering="crispEdges"/>
<rect x="1334" y="80" width="13" height="3" shape-rendering="crispEdges"/>
<polygon points="1321,180.5 1360.5,161 1360.5,200" fill="#fff" stroke="#000" stroke-width="1.8"/>
<rect x="1370" y="80" width="13" height="3" shape-rendering="crispEdges"/>
<rect x="1375.5" y="112.5" width="2" height="4" fill="#fff"/>
<rect x="1369" y="110" width="15" height="3" shape-rendering="crispEdges"/>
<rect x="1369" y="116" width="15" height="3" shape-rendering="crispEdges"/>
<circle cx="1376.5" cy="144.5" r="2.8"/>
<circle cx="1376.5" cy="188.5" r="2.8"/>
<circle cx="1420.5" cy="188.5" r="2.8"/>
<rect x="1414" y="80" width="13" height="3" shape-rendering="crispEdges"/>
<rect x="1416" y="105" width="9" height="23" fill="#fff" stroke="#000" stroke-width="2" shape-rendering="crispEdges"/>
<rect x="1416" y="225" width="9" height="23" fill="#fff" stroke="#000" stroke-width="2" shape-rendering="crispEdges"/>
<polygon points="1292.25,260 1307.75,268.5 1292.25,277" fill="#000"/>
<rect x="1306.75" y="260" width="2" height="17" shape-rendering="crispEdges"/>
<rect x="1339.5" y="284" width="2" height="4" fill="#fff"/>
<rect x="1333.5" y="281" width="14" height="3" fill="#fff" stroke="#000" stroke-width="1" shape-rendering="crispEdges"/>
<rect x="1333" y="287.5" width="15" height="3" shape-rendering="crispEdges"/>
<rect x="1334" y="305" width="13" height="3" shape-rendering="crispEdges"/>
<polygon points="1456,184.25 1464.5,199.75 1473,184.25" fill="#000"/>
<rect x="1456" y="198.75" width="17" height="2" shape-rendering="crispEdges"/>
<path d="M1096.5 326 L1108.8 326" fill="none" stroke="#000" stroke-width="1.4" shape-rendering="crispEdges"/>
<path d="M1096.5 342.5 L1104.3 321.2" fill="none" stroke="#000" stroke-width="1"/>
<path d="M1099 335.8 H1119" fill="none" stroke="#000" stroke-width="1.7" stroke-dasharray="7 2"/>
<path d="M1118.5 335.8 C1121.5 335.5 1121.8 326.2 1123.2 326.2 C1124.6 326.2 1125 335.5 1128 335.8" fill="none" stroke="#000" stroke-width="1.3"/>
<path d="M1128 335.8 H1137.5" fill="none" stroke="#000" stroke-width="1.7" stroke-dasharray="4 2"/>
<rect x="1138.3" y="327.3" width="17.5" height="17.5" fill="#fff" stroke="#000" stroke-width="2" shape-rendering="crispEdges"/>
<path d="M1147.5 341 C1149 337 1150 332.5 1153.5 330.5 M1152.2 331 C1149.8 333 1149.8 336.5 1151.8 339" fill="none" stroke="#000" stroke-width="2"/>
<rect x="1124" y="452.3" width="9" height="36.5" shape-rendering="crispEdges"/>
<rect x="1124" y="496" width="9" height="36.8" shape-rendering="crispEdges"/>
<rect x="1136" y="452.3" width="9" height="80.5" shape-rendering="crispEdges"/>
<circle cx="1168.5" cy="452.5" r="2.8"/>
<circle cx="1168.5" cy="532.5" r="2.8"/>
<path d="M1168.5 452.5 V532.5" fill="none" stroke="#000" stroke-width="1" stroke-dasharray="5 3" shape-rendering="crispEdges"/>
<rect x="1162" y="489" width="14" height="10" fill="#fff"/>
<rect x="1161" y="490" width="15" height="2.5" shape-rendering="crispEdges"/>
<rect x="1161" y="496" width="15" height="2.5" shape-rendering="crispEdges"/>
<rect x="1425" y="376" width="23" height="9" fill="#fff" stroke="#000" stroke-width="2" shape-rendering="crispEdges"/>
<rect x="1426" y="379.5" width="22" height="2" shape-rendering="crispEdges"/>
<circle cx="1496.5" cy="380.5" r="3" fill="#fff" stroke="#000" stroke-width="1"/>
<circle cx="1496.5" cy="428.5" r="3" fill="#fff" stroke="#000" stroke-width="1"/>
<circle cx="1512.7" cy="380.3" r="7" fill="#fff" stroke="#000" stroke-width="1.3"/>
<rect x="1508.2" y="379.2" width="9" height="2.4" shape-rendering="crispEdges"/>
<rect x="1511.5" y="375.8" width="2.4" height="9" shape-rendering="crispEdges"/>
<circle cx="1512.7" cy="428.3" r="7" fill="#fff" stroke="#000" stroke-width="1.3"/>
<rect x="1508.2" y="427.1" width="9" height="2.6" shape-rendering="crispEdges"/>
<polygon points="1544,404.8 1554.6,394.6 1554.6,400.4 1562,400.4 1562,409.2 1554.6,409.2 1554.6,415" fill="#000"/>
<circle cx="1248.5" cy="532.5" r="2.8"/>
<circle cx="1300.5" cy="532.5" r="2.8"/>
<rect x="1261" y="528" width="23" height="9" fill="#fff" stroke="#000" stroke-width="2" shape-rendering="crispEdges"/>
<circle cx="1393.3" cy="452.5" r="2.2" fill="#fff" stroke="#000" stroke-width="1"/>
<circle cx="1389" cy="532.5" r="2.2" fill="#fff" stroke="#000" stroke-width="1"/>
<rect x="1260.5" y="564" width="28" height="9" shape-rendering="crispEdges"/>
<rect x="1254" y="575.3" width="40" height="1.3" shape-rendering="crispEdges"/>
<rect x="1251.5" y="579.5" width="46" height="8" shape-rendering="crispEdges"/>
<circle cx="1064.5" cy="632.5" r="2.8"/>
<circle cx="1248.5" cy="632.5" r="2.8"/>
<circle cx="1300.5" cy="632.5" r="2.8"/>
<rect x="1101" y="628" width="23" height="9" fill="#fff" stroke="#000" stroke-width="2" shape-rendering="crispEdges"/>
<rect x="1272" y="631" width="4" height="3" fill="#fff"/>
<rect x="1270" y="625" width="2.6" height="15" shape-rendering="crispEdges"/>
<rect x="1275.4" y="625" width="2.6" height="15" shape-rendering="crispEdges"/>
<circle cx="1248.5" cy="684.5" r="2.8"/>
<circle cx="1300.5" cy="684.5" r="2.8"/>
<circle cx="1248.5" cy="728.5" r="2.8"/>
<circle cx="1300.5" cy="728.5" r="2.8"/>
<polygon points="1268.25,676 1283.75,684.5 1268.25,693" fill="#000"/>
<rect x="1282.75" y="676" width="2" height="17" shape-rendering="crispEdges"/>
<polygon points="1283.75,720 1268.25,728.5 1283.75,737" fill="#000"/>
<rect x="1267.25" y="720" width="2" height="17" shape-rendering="crispEdges"/>
<circle cx="1300.5" cy="872.5" r="2.8"/>
<rect x="1296" y="893" width="9" height="23" fill="#fff" stroke="#000" stroke-width="2" shape-rendering="crispEdges"/>
<rect x="1294" y="941" width="13" height="3" shape-rendering="crispEdges"/>
<rect x="1369" y="470" width="3" height="13" shape-rendering="crispEdges"/>
<path d="M1393.5 476.5 L1413.5 464.5 M1389 556.5 L1409.5 544.5" fill="none" stroke="#000" stroke-width="1.6"/>
<circle cx="1393.3" cy="476.5" r="2.2" fill="#fff" stroke="#000" stroke-width="1"/>
<circle cx="1413.5" cy="464.5" r="2.6"/>
<circle cx="1389" cy="556.5" r="2.2" fill="#fff" stroke="#000" stroke-width="1"/>
<circle cx="1409.5" cy="544.5" r="2.6"/>
<path d="M1396.5 484 V540" fill="none" stroke="#000" stroke-width="1" stroke-dasharray="5 3" shape-rendering="crispEdges"/>
<path d="M1395.5 554 V584 M1398.5 554 V584" fill="none" stroke="#000" stroke-width="1" stroke-dasharray="2 1" shape-rendering="crispEdges"/>
<circle cx="1547" cy="504.8" r="35.8" fill="none" stroke="#000" stroke-width="1"/>
<circle cx="1548.5" cy="484.5" r="3" fill="#fff" stroke="#000" stroke-width="1"/>
<circle cx="1548.5" cy="524.5" r="3" fill="#fff" stroke="#000" stroke-width="1"/>
<path d="M1533 501.8 A3 3 0 1 0 1533 507.8" fill="none" stroke="#000" stroke-width="1"/>
<rect x="1494" y="497" width="2" height="15.5" shape-rendering="crispEdges"/>
<rect x="1491" y="499.5" width="2" height="10.5" shape-rendering="crispEdges"/>
<rect x="1488" y="502" width="2" height="5.5" shape-rendering="crispEdges"/>
<path d="M1525.2 551 L1515.8 570.3 L1529.4 563.8 L1521 581" fill="none" stroke="#000" stroke-width="1.4"/>
<polygon points="1519,584.5 1519,575.5 1526.8,578.5" fill="#000"/>
<polygon points="1562,561 1547,546 1547,553 1536.5,553 1536.5,569 1547,569 1547,576" fill="#000"/>
<path d="M1585 588.5 C1588 583 1591 584 1593 587.5 C1595 591 1598 592 1601 587" fill="none" stroke="#000" stroke-width="1.5"/>
<rect x="1390.4" y="585.2" width="12.2" height="30" fill="#fff" stroke="#000" stroke-width="2" shape-rendering="crispEdges"/>
<path d="M1390.4 596.5 L1402.6 602.5" fill="none" stroke="#000" stroke-width="1.5"/>
<circle cx="1380.5" cy="600.5" r="2.8"/>
<polygon points="1404.75,644 1389.25,652.5 1404.75,661" fill="#000"/>
<rect x="1388.25" y="644" width="2" height="17" shape-rendering="crispEdges"/>
<circle cx="1412.5" cy="652.5" r="2.8"/>
<circle cx="1348.5" cy="684.5" r="2.8"/>
<circle cx="1460.5" cy="684.5" r="3.2" fill="none" stroke="#000" stroke-width="1"/>
<path d="M1505 673 L1529.5 684.5" fill="none" stroke="#000" stroke-width="1.5"/>
<circle cx="1529.5" cy="684.5" r="2.4"/>
<rect x="1549" y="678" width="3" height="13" shape-rendering="crispEdges"/>
<polygon points="1458,664.5 1463,664.5 1463,668.1 1466.8,668.1 1460.5,674.5 1454.2,668.1 1458,668.1" fill="#000"/>
<rect x="1344" y="753" width="9" height="23" fill="#fff" stroke="#000" stroke-width="2" shape-rendering="crispEdges"/>
<circle cx="1348.5" cy="824.5" r="2.8"/>
<circle cx="1348.5" cy="872.5" r="2.8"/>
<rect x="1401" y="818" width="3" height="13" shape-rendering="crispEdges"/>
<polygon points="1388.5,816.5 1388.5,832.5 1373,824.5" fill="#000"/>
<rect x="1372" y="816" width="2" height="17" shape-rendering="crispEdges"/>
<rect x="1401" y="866" width="3" height="13" shape-rendering="crispEdges"/>
<rect x="1381" y="871" width="4" height="3" fill="#fff"/>
<rect x="1378.5" y="865" width="2.6" height="15" shape-rendering="crispEdges"/>
<rect x="1384" y="865" width="2.6" height="15" shape-rendering="crispEdges"/>
<rect x="1428.3" y="754.5" width="1.6" height="20.5" shape-rendering="crispEdges"/>
<rect x="1423.8" y="752.3" width="2" height="6.4" shape-rendering="crispEdges"/>
<rect x="1423.8" y="761.3" width="2" height="6.4" shape-rendering="crispEdges"/>
<rect x="1423.8" y="770.4" width="2" height="6.4" shape-rendering="crispEdges"/>
<polygon points="1419,761.2 1424,764.5 1419,767.8" fill="#000"/>
<rect x="1406" y="781" width="13" height="3" shape-rendering="crispEdges"/>
<circle cx="1416.5" cy="772.5" r="1.6"/>
<rect x="990" y="889" width="13" height="3" shape-rendering="crispEdges"/>
<rect x="992" y="669" width="9" height="23" fill="#fff" stroke="#000" stroke-width="2" shape-rendering="crispEdges"/>
<circle cx="1064.5" cy="672.5" r="2.8"/>
<circle cx="1064.5" cy="708.5" r="2.8"/>
<circle cx="1064.5" cy="776.5" r="2.8"/>
<circle cx="1064.5" cy="864.5" r="2.8"/>
<circle cx="1064.5" cy="904.5" r="2.8"/>
<rect x="1145" y="666" width="3" height="13" shape-rendering="crispEdges"/>
<rect x="1110" y="671" width="5" height="3" fill="#fff"/>
<rect x="1108" y="665.5" width="2.5" height="14" fill="#fff" stroke="#000" stroke-width="1" shape-rendering="crispEdges"/>
<rect x="1113.3" y="665" width="2.8" height="15" shape-rendering="crispEdges"/>
<rect x="1145" y="702" width="3" height="13" shape-rendering="crispEdges"/>
<polygon points="1121.5,700.5 1121.5,716.5 1106,708.5" fill="#000"/>
<rect x="1104.5" y="699.5" width="2" height="18" shape-rendering="crispEdges"/>
<rect x="1194" y="673" width="13" height="3" shape-rendering="crispEdges"/>
<rect x="1194" y="897" width="13" height="3" shape-rendering="crispEdges"/>
<rect x="1199.5" y="708" width="2" height="4" fill="#fff"/>
<rect x="1193" y="705.5" width="15" height="3" shape-rendering="crispEdges"/>
<rect x="1193.5" y="712" width="14" height="3" fill="#fff" stroke="#000" stroke-width="1" shape-rendering="crispEdges"/>
<polygon points="1118,794.5 1123,794.5 1123,798.1 1126.8,798.1 1120.5,804.5 1114.2,798.1 1118,798.1" fill="#000"/>
<rect x="1028" y="785" width="9" height="23" fill="#fff" stroke="#000" stroke-width="2" shape-rendering="crispEdges"/>
<rect x="1060" y="785" width="9" height="23" fill="#fff" stroke="#000" stroke-width="2" shape-rendering="crispEdges"/>
<rect x="1028" y="905" width="9" height="23" fill="#fff" stroke="#000" stroke-width="2" shape-rendering="crispEdges"/>
<rect x="1026" y="945" width="13" height="3" shape-rendering="crispEdges"/>
<rect x="1058" y="945" width="13" height="3" shape-rendering="crispEdges"/>
<circle cx="1032.5" cy="824.5" r="2.8"/>
<circle cx="1032.5" cy="848.5" r="2.8"/>
<rect x="961" y="820" width="23" height="9" fill="#fff" stroke="#000" stroke-width="2" shape-rendering="crispEdges"/>
<circle cx="952.5" cy="856.5" r="2.8"/>
<polygon points="977,856.5 1016,837 1016,876" fill="#fff" stroke="#000" stroke-width="1.8"/>
<rect x="1063.5" y="924" width="2" height="4" fill="#fff"/>
<rect x="1057.5" y="921" width="14" height="3" fill="#fff" stroke="#000" stroke-width="1" shape-rendering="crispEdges"/>
<rect x="1057" y="927.5" width="15" height="3" shape-rendering="crispEdges"/>
<rect x="1113" y="900" width="23" height="9" fill="#fff" stroke="#000" stroke-width="2" shape-rendering="crispEdges"/>
<rect x="1080" y="814" width="3" height="13" shape-rendering="crispEdges"/>
<polygon points="1112.55,812 1097.05,820.5 1112.55,829" fill="#000"/>
<rect x="1096.05" y="812" width="2" height="17" shape-rendering="crispEdges"/>
<circle cx="1119.8" cy="820.5" r="2.5" fill="none" stroke="#000" stroke-width="1"/>
<path d="M1105.5 813 L1099.5 807" fill="none" stroke="#000" stroke-width="1"/>
<path d="M1109.5 811.5 L1103.5 805.5" fill="none" stroke="#000" stroke-width="1"/>
<polygon points="1098,805.5 1101.8,806.3 1099,809.2" fill="#000"/>
<polygon points="1102,804 1105.8,804.8 1103,807.7" fill="#000"/>
<rect x="1125.5" y="831" width="22" height="2.5" shape-rendering="crispEdges"/>
<path d="M1121.5 822 L1135.5 831.5" fill="none" stroke="#000" stroke-width="1"/>
<path d="M1137.5 831.5 L1149.5 820.5" fill="none" stroke="#000" stroke-width="1"/>
<polygon points="1138.5,831 1140.5,824 1146,828.8" fill="#000"/>
<circle cx="1136.5" cy="864.5" r="2.8"/>
<circle cx="1200.5" cy="820.5" r="2.8"/>
<rect x="1161" y="816" width="23" height="9" fill="#fff" stroke="#000" stroke-width="2" shape-rendering="crispEdges"/>
<polygon points="1096.25,856 1111.75,864.5 1096.25,873" fill="#000"/>
<rect x="1110.75" y="856" width="2" height="17" shape-rendering="crispEdges"/>
<polygon points="1181,864.5 1220.5,845 1220.5,884" fill="#fff" stroke="#000" stroke-width="1.8"/>
<rect x="1396.5" y="1000.5" width="252" height="128" fill="none" stroke="#000" stroke-width="1.3" shape-rendering="crispEdges"/>
<rect x="233.5" y="1005.5" width="50" height="38" fill="none" stroke="#000" stroke-width="1.2" shape-rendering="crispEdges"/>
<rect x="235.5" y="996.5" width="10" height="9.3" fill="#fff" stroke="#000" stroke-width="1" shape-rendering="crispEdges"/>
<rect x="247.57" y="996.5" width="10" height="9.3" fill="#fff" stroke="#000" stroke-width="1" shape-rendering="crispEdges"/>
<rect x="259.64" y="996.5" width="10" height="9.3" fill="#fff" stroke="#000" stroke-width="1" shape-rendering="crispEdges"/>
<rect x="271.71" y="996.5" width="10" height="9.3" fill="#fff" stroke="#000" stroke-width="1" shape-rendering="crispEdges"/>
<rect x="235.5" y="1043.5" width="10" height="9.3" fill="#fff" stroke="#000" stroke-width="1" shape-rendering="crispEdges"/>
<rect x="247.57" y="1043.5" width="10" height="9.3" fill="#fff" stroke="#000" stroke-width="1" shape-rendering="crispEdges"/>
<rect x="259.64" y="1043.5" width="10" height="9.3" fill="#fff" stroke="#000" stroke-width="1" shape-rendering="crispEdges"/>
<rect x="271.71" y="1043.5" width="10" height="9.3" fill="#fff" stroke="#000" stroke-width="1" shape-rendering="crispEdges"/>
<path d="M233.5 1021 A3 3 0 0 1 233.5 1027 Z"/>
<rect x="273" y="1037.7" width="6" height="1.4" shape-rendering="crispEdges"/>
<polygon points="258.5,1016.8 264.6,1022.6 258.5,1028.9" fill="#fff" stroke="#000" stroke-width="1"/>
<rect x="317.5" y="1005.5" width="88" height="38" fill="none" stroke="#000" stroke-width="1.2" shape-rendering="crispEdges"/>
<rect x="319.5" y="996.5" width="10" height="9.3" fill="#fff" stroke="#000" stroke-width="1" shape-rendering="crispEdges"/>
<rect x="331.57" y="996.5" width="10" height="9.3" fill="#fff" stroke="#000" stroke-width="1" shape-rendering="crispEdges"/>
<rect x="343.64" y="996.5" width="10" height="9.3" fill="#fff" stroke="#000" stroke-width="1" shape-rendering="crispEdges"/>
<rect x="355.71" y="996.5" width="10" height="9.3" fill="#fff" stroke="#000" stroke-width="1" shape-rendering="crispEdges"/>
<rect x="367.78" y="996.5" width="10" height="9.3" fill="#fff" stroke="#000" stroke-width="1" shape-rendering="crispEdges"/>
<rect x="379.85" y="996.5" width="10" height="9.3" fill="#fff" stroke="#000" stroke-width="1" shape-rendering="crispEdges"/>
<rect x="391.92" y="996.5" width="10" height="9.3" fill="#fff" stroke="#000" stroke-width="1" shape-rendering="crispEdges"/>
<rect x="319.5" y="1043.5" width="10" height="9.3" fill="#fff" stroke="#000" stroke-width="1" shape-rendering="crispEdges"/>
<rect x="331.57" y="1043.5" width="10" height="9.3" fill="#fff" stroke="#000" stroke-width="1" shape-rendering="crispEdges"/>
<rect x="343.64" y="1043.5" width="10" height="9.3" fill="#fff" stroke="#000" stroke-width="1" shape-rendering="crispEdges"/>
<rect x="355.71" y="1043.5" width="10" height="9.3" fill="#fff" stroke="#000" stroke-width="1" shape-rendering="crispEdges"/>
<rect x="367.78" y="1043.5" width="10" height="9.3" fill="#fff" stroke="#000" stroke-width="1" shape-rendering="crispEdges"/>
<rect x="379.85" y="1043.5" width="10" height="9.3" fill="#fff" stroke="#000" stroke-width="1" shape-rendering="crispEdges"/>
<rect x="391.92" y="1043.5" width="10" height="9.3" fill="#fff" stroke="#000" stroke-width="1" shape-rendering="crispEdges"/>
<path d="M317.5 1020.5 A3 3 0 0 1 317.5 1026.5 Z"/>
<rect x="395" y="1039" width="7" height="1.6" shape-rendering="crispEdges"/>
<rect x="397.7" y="1035" width="1.4" height="4" shape-rendering="crispEdges"/>
<path d="M348 1011.2 V1022.2 C355 1022.2 355 1011.2 348 1011.2 Z" fill="#fff" stroke="#000" stroke-width="1.3"/>
<circle cx="353.6" cy="1016.7" r="0.9"/>
<path d="M381 1011.2 V1022.2 C374 1022.2 374 1011.2 381 1011.2 Z" fill="#fff" stroke="#000" stroke-width="1.3"/>
<circle cx="375.4" cy="1016.7" r="0.9"/>
<path d="M342 1027.3 V1038.3 C349 1038.3 349 1027.3 342 1027.3 Z" fill="#fff" stroke="#000" stroke-width="1.3"/>
<circle cx="347.6" cy="1032.8" r="0.9"/>
<path d="M370.5 1027.3 V1038.3 C363.5 1038.3 363.5 1027.3 370.5 1027.3 Z" fill="#fff" stroke="#000" stroke-width="1.3"/>
<circle cx="364.9" cy="1032.8" r="0.9"/>
</g>
<g stroke="#000" stroke-width="0.15">
<text x="236" y="38" font-size="32" letter-spacing="0" font-weight="bold" textLength="125" lengthAdjust="spacingAndGlyphs">3000 VA</text>
<text x="390" y="38" font-size="32" letter-spacing="0" font-weight="bold" textLength="224" lengthAdjust="spacingAndGlyphs">Power-Inverter</text>
<text x="662" y="38" font-size="32" letter-spacing="0" font-weight="bold" textLength="470" lengthAdjust="spacingAndGlyphs">12 V -&gt; 230 V "modified sinus"</text>
<text x="1236" y="34.5" font-size="14.5" letter-spacing="0" font-style="italic" textLength="151" lengthAdjust="spacingAndGlyphs">professional edition</text>
<text x="556.5" y="59.7" font-size="13" letter-spacing="0" font-weight="bold" textLength="147" lengthAdjust="spacingAndGlyphs">phone: +49-171-9843586</text>
<text x="206.8" y="125.8" font-size="11.5" letter-spacing="0" textLength="73.4" lengthAdjust="spacingAndGlyphs">+ Vcc (CMOS)</text>
<text x="212" y="137.8" font-size="9.2" textLength="61" lengthAdjust="spacingAndGlyphs">4013: Pin 14</text>
<text x="212" y="149.6" font-size="9.2" textLength="61" lengthAdjust="spacingAndGlyphs">4093: Pin 14</text>
<text x="62" y="283.5">R9</text>
<text x="58" y="295.5">1M</text>
<text x="50" y="467.5">D6</text>
<text x="31.2" y="479.8">1N 4148</text>
<text x="132" y="283.5" font-size="9" letter-spacing="0">+</text>
<text x="154.5" y="284">C6</text>
<text x="154" y="299.5">220uF</text>
<text x="232" y="283.5" font-size="9" letter-spacing="0">+</text>
<text x="254.5" y="284">C7</text>
<text x="254" y="299.5">220uF</text>
<text x="314.5" y="288">C26</text>
<text x="314" y="303.3">0,1uF</text>
<text x="408" y="185.5" textLength="90" lengthAdjust="spacingAndGlyphs">overload protection</text>
<text x="263" y="395.5">R10</text>
<text x="263" y="408">100k</text>
<text x="355.5" y="375">T3</text>
<text x="347.5" y="387.5">BCY79</text>
<text x="706" y="100">R24</text>
<text x="694.5" y="123.5">150 Ohm</text>
<text x="596.5" y="101" textLength="81" lengthAdjust="spacingAndGlyphs">negative voltage!</text>
<text x="619" y="151.5" font-size="9" letter-spacing="0">+</text>
<text x="586" y="135.5">C8</text>
<text x="582.5" y="155.5">100uF</text>
<text x="678" y="143.5">D7</text>
<text x="670" y="159.5">ZPD 5,6</text>
<text x="466.5" y="275.5">R12</text>
<text x="463" y="299.5">100k</text>
<text x="607" y="275.5">R22</text>
<text x="606.5" y="299.5">2,2 k</text>
<text x="738.5" y="275.5">R21</text>
<text x="739" y="299.5">100</text>
<text x="399" y="303.7">R11</text>
<text x="399" y="315.6">10k</text>
<text x="402.8" y="359.8">R13</text>
<text x="402.8" y="371.6">10k</text>
<text x="467" y="375.5">R14</text>
<text x="466" y="388">47k</text>
<text x="438.5" y="312">IC9</text>
<text x="459" y="309">7</text>
<text x="479.5" y="313.5">3</text>
<text x="479.5" y="341.5">2</text>
<text x="439.5" y="337.5">6</text>
<text x="460" y="349.5">4</text>
<text x="443.3" y="327.8">TL081</text>
<text x="467.5" y="319.8" font-size="10" letter-spacing="0">+</text>
<text x="467.7" y="335.5" font-size="10" letter-spacing="0">−</text>
<text x="670.5" y="259">C9</text>
<text x="666" y="271">0,1uF</text>
<text x="629" y="317.5">overload</text>
<text x="663" y="351">LED1</text>
<text x="607" y="347.5">R23</text>
<text x="611" y="359.5">1k</text>
<text x="571" y="323">T4</text>
<text x="551" y="347.5">BCY59</text>
<text x="424" y="422.8" font-size="6.3" letter-spacing="0" font-weight="bold" textLength="21" lengthAdjust="spacingAndGlyphs">Preset</text>
<text x="424" y="431.5" font-size="5.5" letter-spacing="0" font-weight="bold">D</text>
<text x="475" y="427.2" font-size="8" letter-spacing="0" font-weight="bold">Q</text>
<text x="441" y="438.7" font-size="8.5" letter-spacing="0" font-weight="bold" textLength="34.5" lengthAdjust="spacingAndGlyphs">4013−II</text>
<text x="445" y="454.5" font-size="6.3" letter-spacing="0" font-weight="bold" textLength="17" lengthAdjust="spacingAndGlyphs">Clear</text>
<text x="475.8" y="450.2" font-size="8" letter-spacing="0" font-weight="bold">Q</text>
<text transform="translate(431.5 412) scale(0.86 1)" font-size="13" letter-spacing="0" font-weight="bold">8</text>
<text transform="translate(411 420) scale(0.86 1)" font-size="13" letter-spacing="0" font-weight="bold">9</text>
<text transform="translate(492.5 420) scale(0.86 1)" font-size="13" letter-spacing="0" font-weight="bold">13</text>
<text transform="translate(492.5 452.5) scale(0.86 1)" font-size="13" letter-spacing="0" font-weight="bold">12</text>
<text transform="translate(399.5 448) scale(0.86 1)" font-size="13" letter-spacing="0" font-weight="bold">11</text>
<text transform="translate(464.5 472.5) scale(0.86 1)" font-size="13" letter-spacing="0" font-weight="bold">10</text>
<text x="452.5" y="410">IC7</text>
<text x="178.5" y="531.5">R3</text>
<text x="174" y="547.5">100k</text>
<text x="146.5" y="531.5">R1</text>
<text x="138" y="547.5">470k</text>
<text x="146.5" y="643.5">R2</text>
<text x="138" y="659.5">470k</text>
<text x="266.5" y="515.5">D1</text>
<text x="254.5" y="547.5">1N 4148</text>
<text x="319" y="551.5">R6</text>
<text x="314" y="571.5">22 k</text>
<text x="243.5" y="579">R4</text>
<text x="242" y="608">50k</text>
<text x="282.5" y="579">R5</text>
<text x="282" y="603.5">68k</text>
<text x="235" y="643.5">C1</text>
<text x="226.5" y="667">47nF</text>
<text x="188" y="583.5" font-size="9" letter-spacing="0">+</text>
<text x="188" y="599" font-size="9" letter-spacing="0">−</text>
<text transform="translate(175.5 579.5) scale(0.86 1)" font-size="13" letter-spacing="0" font-weight="bold">3</text>
<text transform="translate(175.5 607.5) scale(0.86 1)" font-size="13" letter-spacing="0" font-weight="bold">2</text>
<text transform="translate(208 576) scale(0.86 1)" font-size="13" letter-spacing="0" font-weight="bold">7</text>
<text transform="translate(208 608) scale(0.86 1)" font-size="13" letter-spacing="0" font-weight="bold">4</text>
<text transform="translate(219.5 584) scale(0.86 1)" font-size="13" letter-spacing="0" font-weight="bold">6</text>
<text transform="translate(170 620) scale(0.86 1)" font-size="13" letter-spacing="0" font-weight="bold">TL081</text>
<text x="219" y="616">IC1</text>
<text x="342.5" y="523.5">R7</text>
<text x="342.5" y="535.5">10k</text>
<text x="399" y="540">R48</text>
<text x="398" y="563.5">1M</text>
<text x="368" y="575.5" font-size="9" letter-spacing="0">+</text>
<text x="368" y="591.5" font-size="9" letter-spacing="0">−</text>
<text transform="translate(356 568) scale(0.86 1)" font-size="13" letter-spacing="0" font-weight="bold">3</text>
<text transform="translate(356 599.5) scale(0.86 1)" font-size="13" letter-spacing="0" font-weight="bold">2</text>
<text transform="translate(388 568) scale(0.86 1)" font-size="13" letter-spacing="0" font-weight="bold">7</text>
<text transform="translate(388 600) scale(0.86 1)" font-size="13" letter-spacing="0" font-weight="bold">4</text>
<text transform="translate(404 576) scale(0.86 1)" font-size="13" letter-spacing="0" font-weight="bold">6</text>
<text x="398" y="595.5">IC2</text>
<text transform="translate(337.5 612) scale(0.86 1)" font-size="13" letter-spacing="0" font-weight="bold">CA3130E</text>
<text x="324" y="627.5">T1</text>
<text x="295.5" y="639.5">BCY59</text>
<text x="310.5" y="659.5">R8</text>
<text x="306" y="671.5">2,2 k</text>
<text x="391" y="627.5">D3</text>
<text x="367" y="639.5">1N 4148</text>
<text x="391" y="647.5">D2</text>
<text x="367" y="659.5">1N 4148</text>
<text x="447" y="615.3">R17</text>
<text x="445.5" y="627.5">3,3M</text>
<text x="450.5" y="667.5">C4</text>
<text x="442.5" y="680">0,1uF</text>
<text x="479" y="643.5">T2</text>
<text x="478.5" y="655.5">BCY79</text>
<text x="282.5" y="695.5">R15</text>
<text x="283.5" y="720">1M</text>
<text x="427" y="711">R18</text>
<text x="426.5" y="735.5">100k</text>
<text x="499" y="711">R19</text>
<text x="498" y="735.5">68k</text>
<text x="550.5" y="699.5">D4</text>
<text x="594" y="699.5">D5</text>
<text x="541.5" y="743.5">ZPD12</text>
<text x="586.5" y="743.5">1N 4148</text>
<text x="410.5" y="763.5">R16</text>
<text x="410" y="775.5">50k</text>
<text x="475.5" y="751" font-size="9" letter-spacing="0">+</text>
<text x="486.5" y="759.5">C3</text>
<text x="478" y="775.5">4,7uF</text>
<text x="328.5" y="814.5" font-size="16" letter-spacing="0" font-weight="bold" textLength="154" lengthAdjust="spacingAndGlyphs">output voltage: R16</text>
<text x="348.5" y="833.5" font-size="13.5" letter-spacing="0" font-weight="bold" textLength="90" lengthAdjust="spacingAndGlyphs">(pulse width)</text>
<text x="128.5" y="735.5" font-size="12.5" letter-spacing="0" textLength="80.5" lengthAdjust="spacingAndGlyphs">Oszillator: IC1</text>
<text x="128.5" y="748.3" font-size="12.5" letter-spacing="0" textLength="127" lengthAdjust="spacingAndGlyphs">Pin 6: oscillator signal</text>
<text x="92.5" y="893" textLength="112" lengthAdjust="spacingAndGlyphs">replacement for  T1,T4:</text>
<text x="224.5" y="893" textLength="158" lengthAdjust="spacingAndGlyphs">BCY 59, BC 107, BC 237, BC 413</text>
<text x="92.5" y="905.5" textLength="131" lengthAdjust="spacingAndGlyphs">replacement for T2,T3,T11:</text>
<text x="224.5" y="905.5" textLength="158" lengthAdjust="spacingAndGlyphs">BCY 79, BC 307, BC 177, BC 415</text>
<text x="503" y="539.8">IC3</text>
<text x="547" y="527.5">IC4</text>
<text transform="translate(479.5 552.5) scale(0.86 1)" font-size="13" letter-spacing="0" font-weight="bold">2</text>
<text transform="translate(480 576) scale(0.86 1)" font-size="13" letter-spacing="0" font-weight="bold">1</text>
<text transform="translate(524 560) scale(0.86 1)" font-size="13" letter-spacing="0" font-weight="bold">3</text>
<text transform="translate(532.5 544) scale(0.86 1)" font-size="13" letter-spacing="0" font-weight="bold">12</text>
<text transform="translate(561 544) scale(0.86 1)" font-size="13" letter-spacing="0" font-weight="bold">11</text>
<text transform="translate(532.5 592) scale(0.86 1)" font-size="13" letter-spacing="0" font-weight="bold">13</text>
<text transform="translate(484 604) scale(0.97 1)" font-size="13" letter-spacing="0" font-weight="bold">4093-I</text>
<text transform="translate(532 604) scale(0.97 1)" font-size="13" letter-spacing="0" font-weight="bold">4093-II</text>
<text transform="translate(655 368) scale(0.86 1)" font-size="13" letter-spacing="0" font-weight="bold">6</text>
<text transform="translate(687.5 371.5) scale(0.86 1)" font-size="13" letter-spacing="0" font-weight="bold">4</text>
<text transform="translate(655.5 407.5) scale(0.86 1)" font-size="13" letter-spacing="0" font-weight="bold">5</text>
<text transform="translate(619.5 388) scale(0.97 1)" font-size="13" letter-spacing="0" font-weight="bold">4093-III</text>
<text x="670.5" y="423.5">IC5</text>
<text x="614.5" y="487.2" font-size="6.3" letter-spacing="0" font-weight="bold" textLength="21" lengthAdjust="spacingAndGlyphs">Preset</text>
<text x="596" y="492" font-size="5.5" letter-spacing="0" font-weight="bold">D</text>
<text x="647.5" y="491.2" font-size="8" letter-spacing="0" font-weight="bold">Q</text>
<text x="613.5" y="502.7" font-size="8.5" letter-spacing="0" font-weight="bold" textLength="31" lengthAdjust="spacingAndGlyphs">4013−I</text>
<text x="617.5" y="518.5" font-size="6.3" letter-spacing="0" font-weight="bold" textLength="17" lengthAdjust="spacingAndGlyphs">Clear</text>
<text x="648" y="514" font-size="8" letter-spacing="0" font-weight="bold">Q</text>
<text transform="translate(595.5 476) scale(0.86 1)" font-size="13" letter-spacing="0" font-weight="bold">5</text>
<text transform="translate(627.5 476) scale(0.86 1)" font-size="13" letter-spacing="0" font-weight="bold">6</text>
<text transform="translate(671.5 492) scale(0.86 1)" font-size="13" letter-spacing="0" font-weight="bold">2</text>
<text transform="translate(583.5 516) scale(0.86 1)" font-size="13" letter-spacing="0" font-weight="bold">3</text>
<text transform="translate(632 536) scale(0.86 1)" font-size="13" letter-spacing="0" font-weight="bold">4</text>
<text transform="translate(672 524) scale(0.86 1)" font-size="13" letter-spacing="0" font-weight="bold">1</text>
<text x="640.5" y="461.5">IC8</text>
<text transform="translate(651 596) scale(0.86 1)" font-size="13" letter-spacing="0" font-weight="bold">8</text>
<text transform="translate(655 619.5) scale(0.86 1)" font-size="13" letter-spacing="0" font-weight="bold">9</text>
<text transform="translate(692.5 604) scale(0.86 1)" font-size="13" letter-spacing="0" font-weight="bold">10</text>
<text transform="translate(607.5 612) scale(0.97 1)" font-size="13" letter-spacing="0" font-weight="bold">4093-IV</text>
<text x="670.5" y="643.5">IC6</text>
<text x="747" y="323">BS 250</text>
<text x="796.5" y="325.5">S</text>
<text x="795.5" y="343">T5</text>
<text x="797" y="353.7">D</text>
<text x="767" y="367.5">R44</text>
<text x="746" y="379.5">22 Ohm</text>
<text x="767" y="403.7">R45</text>
<text x="746" y="415.7">22 Ohm</text>
<text x="797" y="429.3">D</text>
<text x="799" y="439.3">T6</text>
<text x="797" y="453">S</text>
<text x="746" y="463">2N 7000</text>
<text x="745.7" y="543">2N 7000</text>
<text x="796.5" y="548.7">S</text>
<text x="795" y="563">T7</text>
<text x="796.5" y="573.3">D</text>
<text x="766.5" y="587.5">R46</text>
<text x="745.7" y="595.7">22 Ohm</text>
<text x="766.5" y="623.7">R47</text>
<text x="745.7" y="635.5">22 Ohm</text>
<text x="796.5" y="649.3">D</text>
<text x="795" y="659.3">T8</text>
<text x="796.5" y="673.3">S</text>
<text x="750.7" y="679.5">BS 250</text>
<text x="816.5" y="322" font-size="18" letter-spacing="0" font-weight="bold">C</text>
<text x="816.3" y="362.5" font-size="19" letter-spacing="0" font-weight="bold">A</text>
<text x="816.5" y="581" font-size="18" letter-spacing="0" font-weight="bold">B</text>
<text x="816.5" y="698" font-size="18" letter-spacing="0" font-weight="bold">D</text>
<text x="847" y="316.3">R49</text>
<text x="847.5" y="344.3">100</text>
<text x="872.5" y="340.5" font-size="11.5" letter-spacing="0">G</text>
<text x="847" y="436.3">R56</text>
<text x="847.5" y="464.3">100</text>
<text x="872.5" y="460.5" font-size="11.5" letter-spacing="0">G</text>
<text x="847" y="540.3">R57</text>
<text x="847.5" y="568.3">100</text>
<text x="872.5" y="564.5" font-size="11.5" letter-spacing="0">G</text>
<text x="847" y="668.3">R64</text>
<text x="847.5" y="696.3">100</text>
<text x="872.5" y="692.5" font-size="11.5" letter-spacing="0">G</text>
<text x="870.5" y="301.5" font-size="11.5" letter-spacing="0.4">T13</text>
<text x="892.5" y="312.5" font-size="11.5" letter-spacing="0.3">Drain</text>
<text x="905" y="344.5" font-size="12.5" letter-spacing="0">S</text>
<text x="878.5" y="430" font-size="11.5" letter-spacing="0.4">T20</text>
<text x="907.5" y="432.5" font-size="12.5" letter-spacing="0">D</text>
<text x="907.5" y="464.5" font-size="12.5" letter-spacing="0">S</text>
<text x="875" y="529.5" font-size="11.5" letter-spacing="0.4">T21</text>
<text x="905" y="540" font-size="12.5" letter-spacing="0">D</text>
<text x="907.5" y="564.5" font-size="12.5" letter-spacing="0">S</text>
<text x="875" y="657.5" font-size="11.5" letter-spacing="0.4">T28</text>
<text x="896" y="704.5" font-size="11.5" letter-spacing="0.5">Source</text>
<text x="851.5" y="394.3" font-size="15" letter-spacing="0.8" font-weight="bold">8 x</text>
<text x="851.5" y="622" font-size="15" letter-spacing="0.8" font-weight="bold">8 x</text>
<text x="1069.5" y="501" font-size="9" letter-spacing="0">+</text>
<text x="1054.5" y="481.5" font-size="11.5" letter-spacing="0.4">C5</text>
<text x="1042.5" y="521" font-size="11.5" letter-spacing="0.4">10000 uF</text>
<text x="966.5" y="513.5" font-size="11.5" letter-spacing="0.3">0,001</text>
<text x="966.5" y="525.3" font-size="11.5" letter-spacing="0.3">R20</text>
<text x="767.5" y="766.5" font-size="16" letter-spacing="0" textLength="176" lengthAdjust="spacingAndGlyphs">T13...T28: 16x IRF 3205</text>
<text x="836.5" y="781.7" textLength="56" lengthAdjust="spacingAndGlyphs">or adequate</text>
<text x="824" y="796.5" font-style="italic" textLength="85.5" lengthAdjust="spacingAndGlyphs">z.B. 8 x BUZ 111S</text>
<text x="768.5" y="828" font-size="12" letter-spacing="0" textLength="100" lengthAdjust="spacingAndGlyphs">Signal: automatic</text>
<text x="784.5" y="844" font-size="12" letter-spacing="0" textLength="54" lengthAdjust="spacingAndGlyphs">switch on</text>
<text x="840" y="870" textLength="43" lengthAdjust="spacingAndGlyphs">Off: LOW</text>
<text x="820.5" y="894.5" font-size="18" letter-spacing="0" font-weight="bold">E</text>
<text x="832.5" y="914" textLength="110" lengthAdjust="spacingAndGlyphs">Monoflop: T=5 seconds</text>
<text x="656" y="974.5" font-size="20.5" letter-spacing="0" font-weight="bold" textLength="53" lengthAdjust="spacingAndGlyphs">A...G:</text>
<text x="717" y="974.5" font-size="15.5" letter-spacing="0" textLength="179" lengthAdjust="spacingAndGlyphs">connectors for elektronic</text>
<text x="624" y="997" font-size="12" letter-spacing="0" textLength="45" lengthAdjust="spacingAndGlyphs">between</text>
<text x="696.5" y="997" font-size="12" letter-spacing="0" textLength="20" lengthAdjust="spacingAndGlyphs">and</text>
<text x="720.5" y="998" font-size="18" letter-spacing="0" font-weight="bold">C</text>
<text x="740.5" y="997" font-size="12" letter-spacing="0" textLength="198.5" lengthAdjust="spacingAndGlyphs">a 100uA-meter  may be connected</text>
<text x="843.5" y="227" font-size="9" letter-spacing="0">+</text>
<text x="806.5" y="223">C10</text>
<text x="801.5" y="235">220uF</text>
<text x="882.5" y="223">C11</text>
<text x="881.5" y="247.3">0,1uF</text>
<text x="914" y="261.8">7812</text>
<text x="914.5" y="273.5">IC11</text>
<text x="796" y="170" textLength="118" lengthAdjust="spacingAndGlyphs">stab. 12 Volts, for battery-</text>
<text x="796" y="181.7" textLength="121.5" lengthAdjust="spacingAndGlyphs">voltage of at least 9 Volts!</text>
<text x="999.5" y="155.5" font-size="9" letter-spacing="0">+</text>
<text x="967" y="139.5">C12</text>
<text x="958.5" y="156">100uF</text>
<text x="999.5" y="227.5" font-size="9" letter-spacing="0">+</text>
<text x="974.5" y="247.3">C13</text>
<text x="1001.7" y="247.3">220uF/35 V</text>
<text x="1055" y="151.7">D9</text>
<text x="1055" y="183.3">1N 4148</text>
<text x="1074.5" y="135.7">D8</text>
<text x="1107.3" y="135.7">1N 4001</text>
<text x="1074.5" y="251">D11</text>
<text x="1102.8" y="251">1N 4001</text>
<text x="1110.8" y="287.5">D12</text>
<text x="1110.8" y="303.7">1N 4001</text>
<text x="1034.5" y="195">D10</text>
<text x="1046.5" y="219.3">1N 4001</text>
<text x="1133.5" y="161" font-size="9" letter-spacing="0">+</text>
<text x="1114.5" y="197" font-size="9" letter-spacing="0">+</text>
<text x="1134" y="151.7">47uF</text>
<text x="1106.8" y="183.3">C15</text>
<text x="1106.8" y="214.8">C16</text>
<text x="1126" y="219.3">47uF</text>
<text x="1069.5" y="265.5" font-size="9" letter-spacing="0">+</text>
<text x="1055" y="283">C14</text>
<text x="1050" y="295.3">220uF</text>
<text x="1167" y="123.7">T9</text>
<text x="1154.3" y="135.7">2N 7000</text>
<text x="1202.7" y="155">R25</text>
<text x="1202.7" y="167.4">10 Ohm</text>
<text x="1202.7" y="195">R26</text>
<text x="1202.7" y="207.3">10 Ohm</text>
<text x="1167" y="227.3">T10</text>
<text x="1154.3" y="235.3">BS 250</text>
<text x="1270.4" y="107.5">R27</text>
<text x="1270.4" y="123.7">1M</text>
<text x="1266.6" y="155">C17</text>
<text x="1262.9" y="174.9">10nF</text>
<text x="1270.4" y="195">C18</text>
<text x="1262.9" y="211">10nF</text>
<text x="1270.4" y="243.6">R28</text>
<text x="1270.4" y="259.3">1M</text>
<text x="1298.8" y="135.7">R29</text>
<text x="1298.8" y="159.4">10k</text>
<text x="1298.8" y="211">R30</text>
<text x="1298.8" y="235.3">100k</text>
<text x="1386.6" y="115.7">C19</text>
<text x="1382.3" y="131.2">1nF</text>
<text x="1430.3" y="111.7">R31</text>
<text x="1429.8" y="127.4">470k</text>
<text x="1394.6" y="231">R32</text>
<text x="1394" y="255.5">470k</text>
<text x="1306.3" y="171.9">IC10</text>
<text x="1343.3" y="161">4</text>
<text x="1323.8" y="193.6">6</text>
<text x="1343.3" y="206">7</text>
<text x="1342.5" y="215.6" letter-spacing="0.3">TL081</text>
<text x="1363.7" y="169.9">2</text>
<text x="1363.7" y="197.4">3</text>
<text x="1351.5" y="175" font-size="9" letter-spacing="0">−</text>
<text x="1351.5" y="191.5" font-size="9" letter-spacing="0">+</text>
<text x="1290.3" y="287.3">D13</text>
<text x="1282.8" y="299.3">1N 4001</text>
<text x="1331" y="279" font-size="9" letter-spacing="0">+</text>
<text x="1354.5" y="279">C20</text>
<text x="1350.7" y="294.8">100uF</text>
<text x="1312.8" y="317.2" textLength="75" lengthAdjust="spacingAndGlyphs">charge pump for</text>
<text x="1292" y="329" textLength="111" lengthAdjust="spacingAndGlyphs">internal supply voltages</text>
<text x="1478.4" y="191.9">D14</text>
<text x="1471" y="211">1N 4148</text>
<text x="1139.8" y="340.5" font-size="10" letter-spacing="0" font-weight="bold">+</text>
<text x="1119" y="347.5">F2</text>
<text x="1125.8" y="363.7" textLength="83" lengthAdjust="spacingAndGlyphs">75 degree celsius</text>
<text x="1000.3" y="330" textLength="81.5" lengthAdjust="spacingAndGlyphs">thermal switch on</text>
<text x="1000.3" y="341.7" textLength="85" lengthAdjust="spacingAndGlyphs">transistor heat sink</text>
<text transform="translate(1116 455.5) scale(0.86 1)" font-size="13" letter-spacing="0" font-weight="bold">1</text>
<text transform="translate(1116 488) scale(0.86 1)" font-size="13" letter-spacing="0" font-weight="bold">2</text>
<text transform="translate(1116 508) scale(0.86 1)" font-size="13" letter-spacing="0" font-weight="bold">3</text>
<text transform="translate(1116 540.5) scale(0.86 1)" font-size="13" letter-spacing="0" font-weight="bold">4</text>
<text transform="translate(1155.3 448) scale(0.86 1)" font-size="13" letter-spacing="0" font-weight="bold">5</text>
<text transform="translate(1155.3 543.8) scale(0.86 1)" font-size="13" letter-spacing="0" font-weight="bold">6</text>
<text x="1182.5" y="491.7">C27</text>
<text x="1181" y="516" font-size="26" letter-spacing="0" font-weight="bold">*</text>
<text x="1134" y="552.5" font-size="11.5" letter-spacing="0.3">Tr1</text>
<text x="1134" y="568.3" font-size="11.5" letter-spacing="0.3">3000 VA</text>
<text x="1192.5" y="401.3" font-size="11.5" letter-spacing="0" textLength="91.5" lengthAdjust="spacingAndGlyphs">cross-section of</text>
<text x="1192.5" y="417" font-size="11.5" letter-spacing="0" textLength="93" lengthAdjust="spacingAndGlyphs">at least 25 qmm</text>
<text x="1430.8" y="373.7" font-size="11.5" letter-spacing="0.3">F1</text>
<text x="1426.7" y="397.4" font-size="11.5" letter-spacing="0.25">250 A</text>
<text x="1477" y="410.7" font-size="16" letter-spacing="0" font-weight="bold" textLength="61" lengthAdjust="spacingAndGlyphs">12 Volts</text>
<text x="1547" y="393.7" font-size="11.5" letter-spacing="0.3">U1</text>
<text x="1272.5" y="461" text-anchor="middle">consumers up to</text>
<text x="1272.5" y="473" text-anchor="middle">3000 VA</text>
<text x="1272.5" y="487.4" text-anchor="middle">R33</text>
<text x="1272.5" y="499" text-anchor="middle">0,1 Ohm /</text>
<text x="1272.5" y="509.3" text-anchor="middle">17 Watt for</text>
<text x="1272.5" y="521.6" text-anchor="middle">trigger level 10 VA</text>
<text x="1267.5" y="561.5">6 V</text>
<text x="1298.7" y="579.3">Tr2</text>
<text x="1260" y="598">230 V</text>
<text x="1260.5" y="610.2">1 VA</text>
<text x="1106.6" y="623.7">R34</text>
<text x="1102.6" y="647.5">150 k</text>
<text x="1263" y="623.7">C21</text>
<text x="1263" y="647.5">1 nF</text>
<text x="1271" y="703.6">D15</text>
<text x="1259.2" y="715.6">1N 4148</text>
<text x="1271" y="747.4">D16</text>
<text x="1259.2" y="759.3">1N 4148</text>
<text x="1310.3" y="899">R42</text>
<text x="1310.3" y="911.6">150 k</text>
<text x="1592" y="501.6">230 Volt</text>
<text x="1597" y="513.6">outlet</text>
<text x="1566.3" y="566" font-size="11.5" letter-spacing="0.3">U2</text>
<text x="1529" y="591.7" font-size="11.5" letter-spacing="0.4">230 Volts</text>
<text x="1420.8" y="593.5">relay1</text>
<text x="1422.8" y="607.2">12 V</text>
<text x="1387" y="635.5">D20</text>
<text x="1371" y="675.4">1N 4148</text>
<text x="1453" y="661.2" font-size="18" letter-spacing="0" font-weight="bold">G</text>
<text x="1498.4" y="699">manual</text>
<text x="1496" y="709.4">switch on</text>
<text x="1323" y="767.3">R43</text>
<text x="1318" y="787.8">4,7k /</text>
<text x="1352" y="787.8">0,5 Watt</text>
<text x="1382.8" y="811">D19</text>
<text x="1374" y="843.5">ZPD 10</text>
<text x="1374.8" y="863.5">C24</text>
<text x="1370" y="888">0,1uF</text>
<text x="1442.7" y="759.8">T12</text>
<text x="1442.7" y="783.6">IRFZ24N</text>
<text x="1456" y="823" font-size="12" letter-spacing="0" font-weight="bold">Tr2:</text>
<text x="1456.5" y="833.5" textLength="76" lengthAdjust="spacingAndGlyphs">DC resistance of</text>
<text x="1456.5" y="846" textLength="127" lengthAdjust="spacingAndGlyphs">230 V-coil: approx. 3 kOhm</text>
<text x="1456.5" y="857.7" textLength="113" lengthAdjust="spacingAndGlyphs">sensitivity: R34 und R42</text>
<text x="1456.5" y="869.7" textLength="96" lengthAdjust="spacingAndGlyphs">e.g. R34, R42: 100 k</text>
<text x="1006.5" y="671.6">R35</text>
<text x="1006" y="691.8">470 Ohm</text>
<text x="1099" y="669.5" font-size="9" letter-spacing="0">+</text>
<text x="1122.8" y="668">C22</text>
<text x="1119" y="687.8">100uF</text>
<text x="1123.3" y="703">D17</text>
<text x="1114" y="731">ZPD 10</text>
<text x="1192" y="723.5" font-size="9" letter-spacing="0">+</text>
<text x="1207" y="700">C23</text>
<text x="1202" y="732">220uF</text>
<text x="1089" y="765.5" textLength="103" lengthAdjust="spacingAndGlyphs">display load detection</text>
<text x="1117" y="785.4" font-size="18" letter-spacing="0" font-weight="bold">F</text>
<text x="1010.7" y="795.4">R37</text>
<text x="1002.4" y="815.4">100k</text>
<text x="1074.8" y="791.7">R39</text>
<text x="1074.8" y="807.4">1M</text>
<text x="1006.7" y="916">R38</text>
<text x="1002.4" y="939.8">100k</text>
<text x="962.5" y="815.4">R36</text>
<text x="958.7" y="839.9">100k</text>
<text x="1007.5" y="851.5" font-size="9" letter-spacing="0">+</text>
<text x="1007.5" y="867.5" font-size="9" letter-spacing="0">−</text>
<text x="999.2" y="836.9">7</text>
<text x="1023.6" y="841">3</text>
<text x="971.7" y="864.9">6</text>
<text x="1019.9" y="873.6">2</text>
<text x="999.9" y="885.3">4</text>
<text x="962.5" y="875.4">IC12</text>
<text x="955" y="887.8">uA 741</text>
<text x="1055.5" y="919" font-size="9" letter-spacing="0">+</text>
<text x="1074.8" y="931.5">C25</text>
<text x="1070.3" y="944">4,7uF</text>
<text x="1114.3" y="919.3">R40</text>
<text x="1118.5" y="931.8">1k</text>
<text x="1086.6" y="839.9">LED2</text>
<text x="1131" y="819.9">T11</text>
<text x="1142.7" y="843.6">BCY79</text>
<text x="1162.7" y="811.9">R41</text>
<text x="1163.5" y="835.6">1k</text>
<text x="1094.8" y="854.9">D18</text>
<text x="1091" y="883.1">1N 4148</text>
<text x="1211.5" y="859.5" font-size="9" letter-spacing="0">+</text>
<text x="1211.5" y="875.5" font-size="9" letter-spacing="0">−</text>
<text x="1218.4" y="819.4">IC13</text>
<text x="1211" y="835.4">uA 741</text>
<text x="1204" y="845.4">7</text>
<text x="1223.4" y="849.1">3</text>
<text x="1183.4" y="877.4">6</text>
<text x="1223.4" y="881.6">2</text>
<text x="1204" y="889.8">4</text>
<text x="1005" y="986.2" textLength="161" lengthAdjust="spacingAndGlyphs">automatic load detection  (Option)</text>
<text x="1005" y="1005.8" font-size="9" letter-spacing="0.5" textLength="194" lengthAdjust="spacingAndGlyphs">if connection on "E"  will be disconnected</text>
<text x="1004" y="1018" font-size="9" letter-spacing="0.5" textLength="245" lengthAdjust="spacingAndGlyphs">the inverter would work  continuously. The load must</text>
<text x="1004" y="1030" font-size="9" letter-spacing="0.5" textLength="228.4" lengthAdjust="spacingAndGlyphs">then be connected to 5 and 6  of the transformer.</text>
<text x="1004" y="1041.7" font-size="9" letter-spacing="0.5" textLength="223.5" lengthAdjust="spacingAndGlyphs">(all parts of the load -detection will be obsolete)</text>
<text x="999.6" y="1057.7" font-size="9" letter-spacing="0.5" textLength="153" lengthAdjust="spacingAndGlyphs">C27: 100 pF ... 100 nF / 250 V ~</text>
<text x="1000.6" y="1073.8" font-size="9" letter-spacing="0.5" textLength="196.8" lengthAdjust="spacingAndGlyphs">if load detection would switch  off no more</text>
<text x="1000.6" y="1086" font-size="9" letter-spacing="0.5" textLength="226.7" lengthAdjust="spacingAndGlyphs">condenser C27 must be  connected in parallel to</text>
<text x="1000.6" y="1097.9" font-size="9" letter-spacing="0.5" textLength="210.8" lengthAdjust="spacingAndGlyphs">the transformer coil. The exact value must be</text>
<text x="1000.6" y="1109.9" font-size="9" letter-spacing="0.5" textLength="259.6" lengthAdjust="spacingAndGlyphs">determined by experiment.  In most cases no condenser</text>
<text x="1000.6" y="1122" font-size="9" letter-spacing="0.5" textLength="74.2" lengthAdjust="spacingAndGlyphs">will be required.</text>
<text x="971.5" y="1064.5" font-size="22" letter-spacing="0" font-weight="bold">*</text>
<text x="984" y="1057.7" font-size="9">:</text>
<text x="1400.5" y="1015.7" font-size="11.5" letter-spacing="0" textLength="142.3" lengthAdjust="spacingAndGlyphs">Erstellt von:   W.-G. Gfrörer</text>
<text x="1400.5" y="1035.8" font-size="11.5" letter-spacing="0" textLength="119" lengthAdjust="spacingAndGlyphs">Erstellt am:   04.12.98</text>
<text x="1400.5" y="1055.5" font-size="11.5" letter-spacing="0" textLength="136" lengthAdjust="spacingAndGlyphs">Geändert am:20.01.2002</text>
<text x="1400.5" y="1075.4" font-size="11.5" letter-spacing="0" textLength="165.3" lengthAdjust="spacingAndGlyphs">50 Hz-Rechteckwechselrichter</text>
<text x="1400.5" y="1087.7" font-size="11.5" letter-spacing="0" textLength="156.5" lengthAdjust="spacingAndGlyphs">für ohmsche u.induktive Last</text>
<text x="1400.5" y="1099.6" font-size="11.5" letter-spacing="0" textLength="77" lengthAdjust="spacingAndGlyphs">12 V / 230 Veff</text>
<text x="1400.5" y="1111.9" font-size="11.5" letter-spacing="0" textLength="44.6" lengthAdjust="spacingAndGlyphs">Tp=25%</text>
<text x="1400.5" y="1123.7" font-size="11.5" letter-spacing="0" textLength="175.5" lengthAdjust="spacingAndGlyphs">Us=325V ("modified Sinus 230")</text>
<text x="240.8" y="1004.3" font-size="6.5" letter-spacing="0" font-weight="bold" text-anchor="middle" textLength="4" lengthAdjust="spacingAndGlyphs">8</text>
<text x="252.87" y="1004.3" font-size="6.5" letter-spacing="0" font-weight="bold" text-anchor="middle" textLength="4" lengthAdjust="spacingAndGlyphs">7</text>
<text x="264.94" y="1004.3" font-size="6.5" letter-spacing="0" font-weight="bold" text-anchor="middle" textLength="4" lengthAdjust="spacingAndGlyphs">6</text>
<text x="277.01" y="1004.3" font-size="6.5" letter-spacing="0" font-weight="bold" text-anchor="middle" textLength="4" lengthAdjust="spacingAndGlyphs">5</text>
<text x="240.8" y="1051.3" font-size="6.5" letter-spacing="0" font-weight="bold" text-anchor="middle" textLength="4" lengthAdjust="spacingAndGlyphs">1</text>
<text x="252.87" y="1051.3" font-size="6.5" letter-spacing="0" font-weight="bold" text-anchor="middle" textLength="4" lengthAdjust="spacingAndGlyphs">2</text>
<text x="264.94" y="1051.3" font-size="6.5" letter-spacing="0" font-weight="bold" text-anchor="middle" textLength="4" lengthAdjust="spacingAndGlyphs">3</text>
<text x="277.01" y="1051.3" font-size="6.5" letter-spacing="0" font-weight="bold" text-anchor="middle" textLength="4" lengthAdjust="spacingAndGlyphs">4</text>
<text x="250.5" y="1013.5" font-size="9" letter-spacing="0" font-weight="bold">+</text>
<text x="242.5" y="1077.7" font-size="12" letter-spacing="0" textLength="35.5" lengthAdjust="spacingAndGlyphs">uA 741</text>
<text x="324.8" y="1004.3" font-size="6.5" letter-spacing="0" font-weight="bold" text-anchor="middle" textLength="7.5" lengthAdjust="spacingAndGlyphs">14</text>
<text x="336.87" y="1004.3" font-size="6.5" letter-spacing="0" font-weight="bold" text-anchor="middle" textLength="7.5" lengthAdjust="spacingAndGlyphs">13</text>
<text x="348.94" y="1004.3" font-size="6.5" letter-spacing="0" font-weight="bold" text-anchor="middle" textLength="7.5" lengthAdjust="spacingAndGlyphs">12</text>
<text x="361.01" y="1004.3" font-size="6.5" letter-spacing="0" font-weight="bold" text-anchor="middle" textLength="7.5" lengthAdjust="spacingAndGlyphs">11</text>
<text x="373.08" y="1004.3" font-size="6.5" letter-spacing="0" font-weight="bold" text-anchor="middle" textLength="7.5" lengthAdjust="spacingAndGlyphs">10</text>
<text x="385.15" y="1004.3" font-size="6.5" letter-spacing="0" font-weight="bold" text-anchor="middle" textLength="4" lengthAdjust="spacingAndGlyphs">9</text>
<text x="397.22" y="1004.3" font-size="6.5" letter-spacing="0" font-weight="bold" text-anchor="middle" textLength="4" lengthAdjust="spacingAndGlyphs">8</text>
<text x="324.8" y="1051.3" font-size="6.5" letter-spacing="0" font-weight="bold" text-anchor="middle" textLength="4" lengthAdjust="spacingAndGlyphs">1</text>
<text x="336.87" y="1051.3" font-size="6.5" letter-spacing="0" font-weight="bold" text-anchor="middle" textLength="4" lengthAdjust="spacingAndGlyphs">2</text>
<text x="348.94" y="1051.3" font-size="6.5" letter-spacing="0" font-weight="bold" text-anchor="middle" textLength="4" lengthAdjust="spacingAndGlyphs">3</text>
<text x="361.01" y="1051.3" font-size="6.5" letter-spacing="0" font-weight="bold" text-anchor="middle" textLength="4" lengthAdjust="spacingAndGlyphs">4</text>
<text x="373.08" y="1051.3" font-size="6.5" letter-spacing="0" font-weight="bold" text-anchor="middle" textLength="4" lengthAdjust="spacingAndGlyphs">5</text>
<text x="385.15" y="1051.3" font-size="6.5" letter-spacing="0" font-weight="bold" text-anchor="middle" textLength="4" lengthAdjust="spacingAndGlyphs">6</text>
<text x="397.22" y="1051.3" font-size="6.5" letter-spacing="0" font-weight="bold" text-anchor="middle" textLength="4" lengthAdjust="spacingAndGlyphs">7</text>
<text x="321.5" y="1013.5" font-size="9" letter-spacing="0" font-weight="bold">+</text>
<text x="346.5" y="1077.7" font-size="12" letter-spacing="0" textLength="27" lengthAdjust="spacingAndGlyphs">4093</text>
</g>
</svg></body></html>
